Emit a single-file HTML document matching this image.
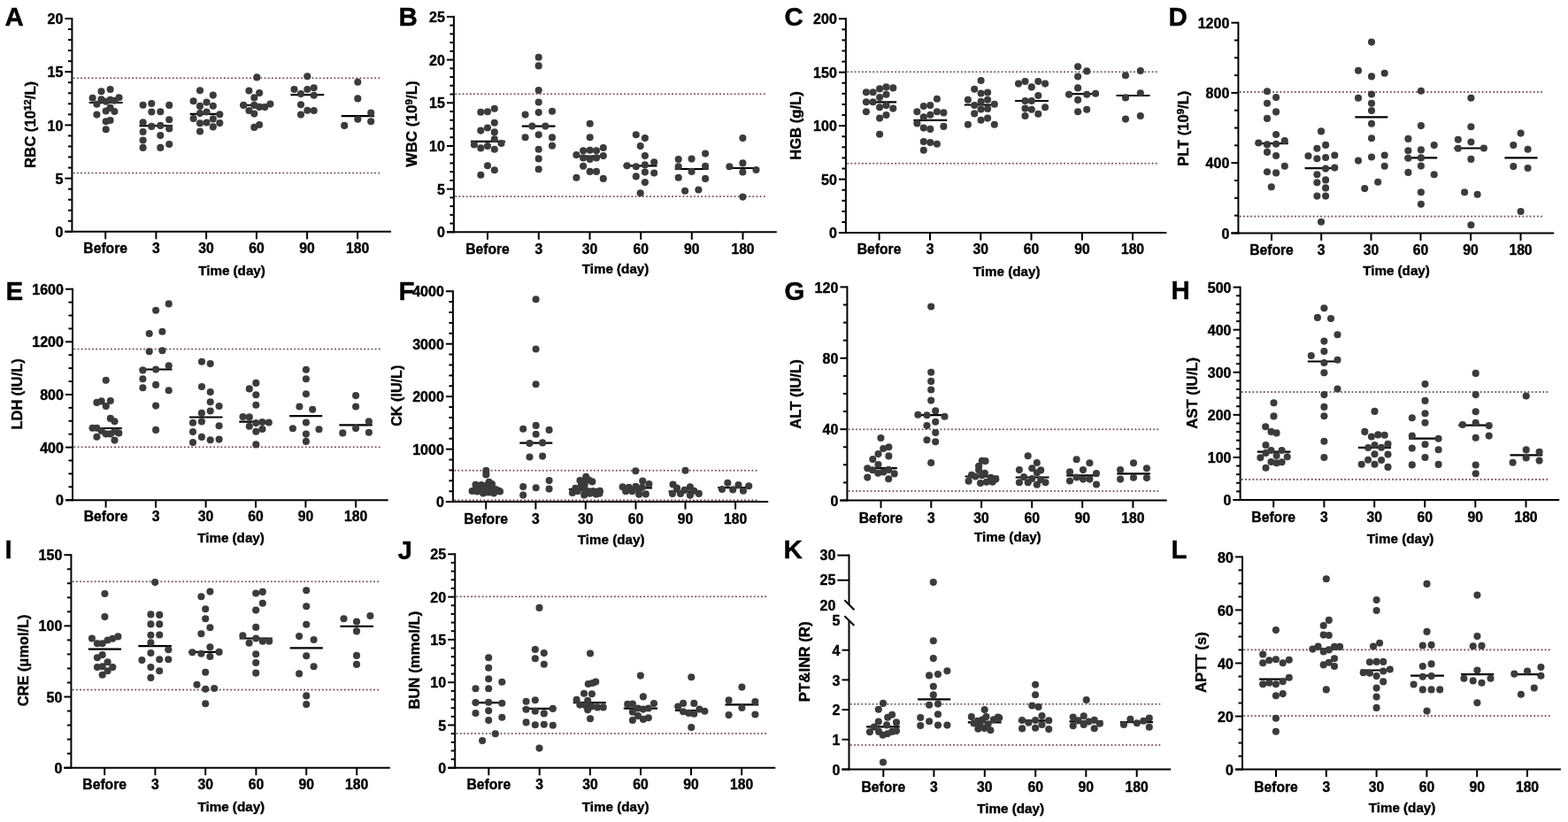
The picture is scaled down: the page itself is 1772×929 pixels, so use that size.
<!DOCTYPE html>
<html><head><meta charset="utf-8"><style>
html,body{margin:0;padding:0;background:#fff;}
svg{display:block;}
text{font-family:'Liberation Sans', Arial, sans-serif;font-weight:bold;fill:#000;stroke:#000;stroke-width:0.4px;}
circle{fill:#3b3b3b;}
</style></head><body>
<svg width="1772" height="929" viewBox="0 0 1772 929">
<rect width="1772" height="929" fill="#fff"/>
<text x="5.4" y="28.8" font-size="29.5" text-anchor="start">A</text>
<line x1="83.7" y1="88.2" x2="430.2" y2="88.2" stroke="#7a5256" stroke-width="2.1" stroke-linecap="round" stroke-dasharray="0 4.15"/>
<line x1="83.7" y1="195.5" x2="430.2" y2="195.5" stroke="#7a5256" stroke-width="2.1" stroke-linecap="round" stroke-dasharray="0 4.15"/>
<line x1="81.4" y1="20" x2="81.4" y2="262.8" stroke="#000" stroke-width="2"/>
<line x1="73.4" y1="261.8" x2="81.4" y2="261.8" stroke="#000" stroke-width="2"/>
<text x="71.3" y="267.9" font-size="16" text-anchor="end">0</text>
<line x1="73.4" y1="201.6" x2="81.4" y2="201.6" stroke="#000" stroke-width="2"/>
<text x="71.3" y="207.7" font-size="16" text-anchor="end">5</text>
<line x1="73.4" y1="141.4" x2="81.4" y2="141.4" stroke="#000" stroke-width="2"/>
<text x="71.3" y="147.5" font-size="16" text-anchor="end">10</text>
<line x1="73.4" y1="81.2" x2="81.4" y2="81.2" stroke="#000" stroke-width="2"/>
<text x="71.3" y="87.3" font-size="16" text-anchor="end">15</text>
<line x1="73.4" y1="21" x2="81.4" y2="21" stroke="#000" stroke-width="2"/>
<text x="71.3" y="27.1" font-size="16" text-anchor="end">20</text>
<line x1="76.9" y1="249.76" x2="81.4" y2="249.76" stroke="#000" stroke-width="2"/>
<line x1="76.9" y1="237.72" x2="81.4" y2="237.72" stroke="#000" stroke-width="2"/>
<line x1="76.9" y1="225.68" x2="81.4" y2="225.68" stroke="#000" stroke-width="2"/>
<line x1="76.9" y1="213.64" x2="81.4" y2="213.64" stroke="#000" stroke-width="2"/>
<line x1="76.9" y1="189.56" x2="81.4" y2="189.56" stroke="#000" stroke-width="2"/>
<line x1="76.9" y1="177.52" x2="81.4" y2="177.52" stroke="#000" stroke-width="2"/>
<line x1="76.9" y1="165.48" x2="81.4" y2="165.48" stroke="#000" stroke-width="2"/>
<line x1="76.9" y1="153.44" x2="81.4" y2="153.44" stroke="#000" stroke-width="2"/>
<line x1="76.9" y1="129.36" x2="81.4" y2="129.36" stroke="#000" stroke-width="2"/>
<line x1="76.9" y1="117.32" x2="81.4" y2="117.32" stroke="#000" stroke-width="2"/>
<line x1="76.9" y1="105.28" x2="81.4" y2="105.28" stroke="#000" stroke-width="2"/>
<line x1="76.9" y1="93.24" x2="81.4" y2="93.24" stroke="#000" stroke-width="2"/>
<line x1="76.9" y1="69.16" x2="81.4" y2="69.16" stroke="#000" stroke-width="2"/>
<line x1="76.9" y1="57.12" x2="81.4" y2="57.12" stroke="#000" stroke-width="2"/>
<line x1="76.9" y1="45.08" x2="81.4" y2="45.08" stroke="#000" stroke-width="2"/>
<line x1="76.9" y1="33.04" x2="81.4" y2="33.04" stroke="#000" stroke-width="2"/>
<line x1="73.4" y1="261.8" x2="442" y2="261.8" stroke="#000" stroke-width="2"/>
<line x1="119.2" y1="261.8" x2="119.2" y2="270.3" stroke="#000" stroke-width="2"/>
<text x="119.2" y="286.2" font-size="15.7" text-anchor="middle">Before</text>
<line x1="176.4" y1="261.8" x2="176.4" y2="270.3" stroke="#000" stroke-width="2"/>
<text x="176.4" y="286.2" font-size="15.7" text-anchor="middle">3</text>
<line x1="233.1" y1="261.8" x2="233.1" y2="270.3" stroke="#000" stroke-width="2"/>
<text x="233.1" y="286.2" font-size="15.7" text-anchor="middle">30</text>
<line x1="289.9" y1="261.8" x2="289.9" y2="270.3" stroke="#000" stroke-width="2"/>
<text x="289.9" y="286.2" font-size="15.7" text-anchor="middle">60</text>
<line x1="347.1" y1="261.8" x2="347.1" y2="270.3" stroke="#000" stroke-width="2"/>
<text x="347.1" y="286.2" font-size="15.7" text-anchor="middle">90</text>
<line x1="404.1" y1="261.8" x2="404.1" y2="270.3" stroke="#000" stroke-width="2"/>
<text x="404.1" y="286.2" font-size="15.7" text-anchor="middle">180</text>
<text x="262" y="310.8" font-size="15.2" text-anchor="middle">Time (day)</text>
<text transform="translate(39.5,140.9) rotate(-90)" font-size="16.69" text-anchor="middle">RBC (10<tspan font-size="11.5" dy="-5">12</tspan><tspan dy="5">/L)</tspan></text>
<text x="450.4" y="28.8" font-size="29.5" text-anchor="start">B</text>
<line x1="515.2" y1="106.3" x2="866.5" y2="106.3" stroke="#7a5256" stroke-width="2.1" stroke-linecap="round" stroke-dasharray="0 4.15"/>
<line x1="515.2" y1="222" x2="866.5" y2="222" stroke="#7a5256" stroke-width="2.1" stroke-linecap="round" stroke-dasharray="0 4.15"/>
<line x1="512.9" y1="17.9" x2="512.9" y2="263.3" stroke="#000" stroke-width="2"/>
<line x1="504.9" y1="262.3" x2="512.9" y2="262.3" stroke="#000" stroke-width="2"/>
<text x="502.8" y="268.4" font-size="16" text-anchor="end">0</text>
<line x1="504.9" y1="213.62" x2="512.9" y2="213.62" stroke="#000" stroke-width="2"/>
<text x="502.8" y="219.72" font-size="16" text-anchor="end">5</text>
<line x1="504.9" y1="164.94" x2="512.9" y2="164.94" stroke="#000" stroke-width="2"/>
<text x="502.8" y="171.04" font-size="16" text-anchor="end">10</text>
<line x1="504.9" y1="116.26" x2="512.9" y2="116.26" stroke="#000" stroke-width="2"/>
<text x="502.8" y="122.36" font-size="16" text-anchor="end">15</text>
<line x1="504.9" y1="67.58" x2="512.9" y2="67.58" stroke="#000" stroke-width="2"/>
<text x="502.8" y="73.68" font-size="16" text-anchor="end">20</text>
<line x1="504.9" y1="18.9" x2="512.9" y2="18.9" stroke="#000" stroke-width="2"/>
<text x="502.8" y="25" font-size="16" text-anchor="end">25</text>
<line x1="508.4" y1="252.56" x2="512.9" y2="252.56" stroke="#000" stroke-width="2"/>
<line x1="508.4" y1="242.83" x2="512.9" y2="242.83" stroke="#000" stroke-width="2"/>
<line x1="508.4" y1="233.09" x2="512.9" y2="233.09" stroke="#000" stroke-width="2"/>
<line x1="508.4" y1="223.36" x2="512.9" y2="223.36" stroke="#000" stroke-width="2"/>
<line x1="508.4" y1="203.88" x2="512.9" y2="203.88" stroke="#000" stroke-width="2"/>
<line x1="508.4" y1="194.15" x2="512.9" y2="194.15" stroke="#000" stroke-width="2"/>
<line x1="508.4" y1="184.41" x2="512.9" y2="184.41" stroke="#000" stroke-width="2"/>
<line x1="508.4" y1="174.68" x2="512.9" y2="174.68" stroke="#000" stroke-width="2"/>
<line x1="508.4" y1="155.2" x2="512.9" y2="155.2" stroke="#000" stroke-width="2"/>
<line x1="508.4" y1="145.47" x2="512.9" y2="145.47" stroke="#000" stroke-width="2"/>
<line x1="508.4" y1="135.73" x2="512.9" y2="135.73" stroke="#000" stroke-width="2"/>
<line x1="508.4" y1="126" x2="512.9" y2="126" stroke="#000" stroke-width="2"/>
<line x1="508.4" y1="106.52" x2="512.9" y2="106.52" stroke="#000" stroke-width="2"/>
<line x1="508.4" y1="96.79" x2="512.9" y2="96.79" stroke="#000" stroke-width="2"/>
<line x1="508.4" y1="87.05" x2="512.9" y2="87.05" stroke="#000" stroke-width="2"/>
<line x1="508.4" y1="77.32" x2="512.9" y2="77.32" stroke="#000" stroke-width="2"/>
<line x1="508.4" y1="57.84" x2="512.9" y2="57.84" stroke="#000" stroke-width="2"/>
<line x1="508.4" y1="48.11" x2="512.9" y2="48.11" stroke="#000" stroke-width="2"/>
<line x1="508.4" y1="38.37" x2="512.9" y2="38.37" stroke="#000" stroke-width="2"/>
<line x1="508.4" y1="28.64" x2="512.9" y2="28.64" stroke="#000" stroke-width="2"/>
<line x1="504.9" y1="262.3" x2="877.8" y2="262.3" stroke="#000" stroke-width="2"/>
<line x1="551" y1="262.3" x2="551" y2="270.8" stroke="#000" stroke-width="2"/>
<text x="551" y="287.2" font-size="15.7" text-anchor="middle">Before</text>
<line x1="608.8" y1="262.3" x2="608.8" y2="270.8" stroke="#000" stroke-width="2"/>
<text x="608.8" y="287.2" font-size="15.7" text-anchor="middle">3</text>
<line x1="666.5" y1="262.3" x2="666.5" y2="270.8" stroke="#000" stroke-width="2"/>
<text x="666.5" y="287.2" font-size="15.7" text-anchor="middle">30</text>
<line x1="724.2" y1="262.3" x2="724.2" y2="270.8" stroke="#000" stroke-width="2"/>
<text x="724.2" y="287.2" font-size="15.7" text-anchor="middle">60</text>
<line x1="781.8" y1="262.3" x2="781.8" y2="270.8" stroke="#000" stroke-width="2"/>
<text x="781.8" y="287.2" font-size="15.7" text-anchor="middle">90</text>
<line x1="839.5" y1="262.3" x2="839.5" y2="270.8" stroke="#000" stroke-width="2"/>
<text x="839.5" y="287.2" font-size="15.7" text-anchor="middle">180</text>
<text x="695.5" y="309" font-size="15.2" text-anchor="middle">Time (day)</text>
<text transform="translate(470.7,139.95) rotate(-90)" font-size="17.09" text-anchor="middle">WBC (10<tspan font-size="11.5" dy="-5">9</tspan><tspan dy="5">/L)</tspan></text>
<text x="886.4" y="28.8" font-size="29.5" text-anchor="start">C</text>
<line x1="958.2" y1="81.3" x2="1307.9" y2="81.3" stroke="#7a5256" stroke-width="2.1" stroke-linecap="round" stroke-dasharray="0 4.15"/>
<line x1="958.2" y1="184.7" x2="1307.9" y2="184.7" stroke="#7a5256" stroke-width="2.1" stroke-linecap="round" stroke-dasharray="0 4.15"/>
<line x1="955.9" y1="20.2" x2="955.9" y2="264.1" stroke="#000" stroke-width="2"/>
<line x1="947.9" y1="263.1" x2="955.9" y2="263.1" stroke="#000" stroke-width="2"/>
<text x="945.8" y="269.2" font-size="16" text-anchor="end">0</text>
<line x1="947.9" y1="202.62" x2="955.9" y2="202.62" stroke="#000" stroke-width="2"/>
<text x="945.8" y="208.72" font-size="16" text-anchor="end">50</text>
<line x1="947.9" y1="142.15" x2="955.9" y2="142.15" stroke="#000" stroke-width="2"/>
<text x="945.8" y="148.25" font-size="16" text-anchor="end">100</text>
<line x1="947.9" y1="81.67" x2="955.9" y2="81.67" stroke="#000" stroke-width="2"/>
<text x="945.8" y="87.77" font-size="16" text-anchor="end">150</text>
<line x1="947.9" y1="21.2" x2="955.9" y2="21.2" stroke="#000" stroke-width="2"/>
<text x="945.8" y="27.3" font-size="16" text-anchor="end">200</text>
<line x1="951.4" y1="251.01" x2="955.9" y2="251.01" stroke="#000" stroke-width="2"/>
<line x1="951.4" y1="238.91" x2="955.9" y2="238.91" stroke="#000" stroke-width="2"/>
<line x1="951.4" y1="226.81" x2="955.9" y2="226.81" stroke="#000" stroke-width="2"/>
<line x1="951.4" y1="214.72" x2="955.9" y2="214.72" stroke="#000" stroke-width="2"/>
<line x1="951.4" y1="190.53" x2="955.9" y2="190.53" stroke="#000" stroke-width="2"/>
<line x1="951.4" y1="178.44" x2="955.9" y2="178.44" stroke="#000" stroke-width="2"/>
<line x1="951.4" y1="166.34" x2="955.9" y2="166.34" stroke="#000" stroke-width="2"/>
<line x1="951.4" y1="154.25" x2="955.9" y2="154.25" stroke="#000" stroke-width="2"/>
<line x1="951.4" y1="130.06" x2="955.9" y2="130.06" stroke="#000" stroke-width="2"/>
<line x1="951.4" y1="117.96" x2="955.9" y2="117.96" stroke="#000" stroke-width="2"/>
<line x1="951.4" y1="105.86" x2="955.9" y2="105.86" stroke="#000" stroke-width="2"/>
<line x1="951.4" y1="93.77" x2="955.9" y2="93.77" stroke="#000" stroke-width="2"/>
<line x1="951.4" y1="69.58" x2="955.9" y2="69.58" stroke="#000" stroke-width="2"/>
<line x1="951.4" y1="57.48" x2="955.9" y2="57.48" stroke="#000" stroke-width="2"/>
<line x1="951.4" y1="45.39" x2="955.9" y2="45.39" stroke="#000" stroke-width="2"/>
<line x1="951.4" y1="33.29" x2="955.9" y2="33.29" stroke="#000" stroke-width="2"/>
<line x1="947.9" y1="263.1" x2="1318.4" y2="263.1" stroke="#000" stroke-width="2"/>
<line x1="993.6" y1="263.1" x2="993.6" y2="271.6" stroke="#000" stroke-width="2"/>
<text x="993.6" y="287.3" font-size="15.7" text-anchor="middle">Before</text>
<line x1="1051" y1="263.1" x2="1051" y2="271.6" stroke="#000" stroke-width="2"/>
<text x="1051" y="287.3" font-size="15.7" text-anchor="middle">3</text>
<line x1="1108.3" y1="263.1" x2="1108.3" y2="271.6" stroke="#000" stroke-width="2"/>
<text x="1108.3" y="287.3" font-size="15.7" text-anchor="middle">30</text>
<line x1="1165.5" y1="263.1" x2="1165.5" y2="271.6" stroke="#000" stroke-width="2"/>
<text x="1165.5" y="287.3" font-size="15.7" text-anchor="middle">60</text>
<line x1="1222.9" y1="263.1" x2="1222.9" y2="271.6" stroke="#000" stroke-width="2"/>
<text x="1222.9" y="287.3" font-size="15.7" text-anchor="middle">90</text>
<line x1="1280" y1="263.1" x2="1280" y2="271.6" stroke="#000" stroke-width="2"/>
<text x="1280" y="287.3" font-size="15.7" text-anchor="middle">180</text>
<text x="1137.7" y="311.9" font-size="15.2" text-anchor="middle">Time (day)</text>
<text transform="translate(904.8,142.05) rotate(-90)" font-size="16.63" text-anchor="middle">HGB (g/L)</text>
<text x="1320.4" y="28.8" font-size="29.5" text-anchor="start">D</text>
<line x1="1401.7" y1="104.1" x2="1745.5" y2="104.1" stroke="#7a5256" stroke-width="2.1" stroke-linecap="round" stroke-dasharray="0 4.15"/>
<line x1="1401.7" y1="244.6" x2="1745.5" y2="244.6" stroke="#7a5256" stroke-width="2.1" stroke-linecap="round" stroke-dasharray="0 4.15"/>
<line x1="1399.4" y1="24.7" x2="1399.4" y2="264.4" stroke="#000" stroke-width="2"/>
<line x1="1391.4" y1="263.4" x2="1399.4" y2="263.4" stroke="#000" stroke-width="2"/>
<text x="1389.3" y="269.5" font-size="16" text-anchor="end">0</text>
<line x1="1391.4" y1="184.17" x2="1399.4" y2="184.17" stroke="#000" stroke-width="2"/>
<text x="1389.3" y="190.27" font-size="16" text-anchor="end">400</text>
<line x1="1391.4" y1="104.93" x2="1399.4" y2="104.93" stroke="#000" stroke-width="2"/>
<text x="1389.3" y="111.03" font-size="16" text-anchor="end">800</text>
<line x1="1391.4" y1="25.7" x2="1399.4" y2="25.7" stroke="#000" stroke-width="2"/>
<text x="1389.3" y="31.8" font-size="16" text-anchor="end">1200</text>
<line x1="1394.9" y1="243.59" x2="1399.4" y2="243.59" stroke="#000" stroke-width="2"/>
<line x1="1394.9" y1="223.78" x2="1399.4" y2="223.78" stroke="#000" stroke-width="2"/>
<line x1="1394.9" y1="203.97" x2="1399.4" y2="203.97" stroke="#000" stroke-width="2"/>
<line x1="1394.9" y1="164.36" x2="1399.4" y2="164.36" stroke="#000" stroke-width="2"/>
<line x1="1394.9" y1="144.55" x2="1399.4" y2="144.55" stroke="#000" stroke-width="2"/>
<line x1="1394.9" y1="124.74" x2="1399.4" y2="124.74" stroke="#000" stroke-width="2"/>
<line x1="1394.9" y1="85.12" x2="1399.4" y2="85.12" stroke="#000" stroke-width="2"/>
<line x1="1394.9" y1="65.32" x2="1399.4" y2="65.32" stroke="#000" stroke-width="2"/>
<line x1="1394.9" y1="45.51" x2="1399.4" y2="45.51" stroke="#000" stroke-width="2"/>
<line x1="1391.4" y1="263.4" x2="1756.2" y2="263.4" stroke="#000" stroke-width="2"/>
<line x1="1437" y1="263.4" x2="1437" y2="271.9" stroke="#000" stroke-width="2"/>
<text x="1437" y="288" font-size="15.7" text-anchor="middle">Before</text>
<line x1="1493.2" y1="263.4" x2="1493.2" y2="271.9" stroke="#000" stroke-width="2"/>
<text x="1493.2" y="288" font-size="15.7" text-anchor="middle">3</text>
<line x1="1549.5" y1="263.4" x2="1549.5" y2="271.9" stroke="#000" stroke-width="2"/>
<text x="1549.5" y="288" font-size="15.7" text-anchor="middle">30</text>
<line x1="1605.5" y1="263.4" x2="1605.5" y2="271.9" stroke="#000" stroke-width="2"/>
<text x="1605.5" y="288" font-size="15.7" text-anchor="middle">60</text>
<line x1="1662.1" y1="263.4" x2="1662.1" y2="271.9" stroke="#000" stroke-width="2"/>
<text x="1662.1" y="288" font-size="15.7" text-anchor="middle">90</text>
<line x1="1718.5" y1="263.4" x2="1718.5" y2="271.9" stroke="#000" stroke-width="2"/>
<text x="1718.5" y="288" font-size="15.7" text-anchor="middle">180</text>
<text x="1578" y="311.2" font-size="15.2" text-anchor="middle">Time (day)</text>
<text transform="translate(1343.4,145.3) rotate(-90)" font-size="16.54" text-anchor="middle">PLT (10<tspan font-size="11.5" dy="-5">9</tspan><tspan dy="5">/L)</tspan></text>
<text x="6.4" y="338.8" font-size="29.5" text-anchor="start">E</text>
<line x1="84.3" y1="394.5" x2="429.4" y2="394.5" stroke="#7a5256" stroke-width="2.1" stroke-linecap="round" stroke-dasharray="0 4.15"/>
<line x1="84.3" y1="505.2" x2="429.4" y2="505.2" stroke="#7a5256" stroke-width="2.1" stroke-linecap="round" stroke-dasharray="0 4.15"/>
<line x1="82" y1="325.7" x2="82" y2="566.2" stroke="#000" stroke-width="2"/>
<line x1="74" y1="565.2" x2="82" y2="565.2" stroke="#000" stroke-width="2"/>
<text x="71.9" y="571.3" font-size="16" text-anchor="end">0</text>
<line x1="74" y1="505.58" x2="82" y2="505.58" stroke="#000" stroke-width="2"/>
<text x="71.9" y="511.68" font-size="16" text-anchor="end">400</text>
<line x1="74" y1="445.95" x2="82" y2="445.95" stroke="#000" stroke-width="2"/>
<text x="71.9" y="452.05" font-size="16" text-anchor="end">800</text>
<line x1="74" y1="386.32" x2="82" y2="386.32" stroke="#000" stroke-width="2"/>
<text x="71.9" y="392.43" font-size="16" text-anchor="end">1200</text>
<line x1="74" y1="326.7" x2="82" y2="326.7" stroke="#000" stroke-width="2"/>
<text x="71.9" y="332.8" font-size="16" text-anchor="end">1600</text>
<line x1="77.5" y1="550.29" x2="82" y2="550.29" stroke="#000" stroke-width="2"/>
<line x1="77.5" y1="535.39" x2="82" y2="535.39" stroke="#000" stroke-width="2"/>
<line x1="77.5" y1="520.48" x2="82" y2="520.48" stroke="#000" stroke-width="2"/>
<line x1="77.5" y1="490.67" x2="82" y2="490.67" stroke="#000" stroke-width="2"/>
<line x1="77.5" y1="475.76" x2="82" y2="475.76" stroke="#000" stroke-width="2"/>
<line x1="77.5" y1="460.86" x2="82" y2="460.86" stroke="#000" stroke-width="2"/>
<line x1="77.5" y1="431.04" x2="82" y2="431.04" stroke="#000" stroke-width="2"/>
<line x1="77.5" y1="416.14" x2="82" y2="416.14" stroke="#000" stroke-width="2"/>
<line x1="77.5" y1="401.23" x2="82" y2="401.23" stroke="#000" stroke-width="2"/>
<line x1="77.5" y1="371.42" x2="82" y2="371.42" stroke="#000" stroke-width="2"/>
<line x1="77.5" y1="356.51" x2="82" y2="356.51" stroke="#000" stroke-width="2"/>
<line x1="77.5" y1="341.61" x2="82" y2="341.61" stroke="#000" stroke-width="2"/>
<line x1="74" y1="565.2" x2="438.7" y2="565.2" stroke="#000" stroke-width="2"/>
<line x1="119.6" y1="565.2" x2="119.6" y2="573.7" stroke="#000" stroke-width="2"/>
<text x="119.6" y="589.2" font-size="15.7" text-anchor="middle">Before</text>
<line x1="176" y1="565.2" x2="176" y2="573.7" stroke="#000" stroke-width="2"/>
<text x="176" y="589.2" font-size="15.7" text-anchor="middle">3</text>
<line x1="232.6" y1="565.2" x2="232.6" y2="573.7" stroke="#000" stroke-width="2"/>
<text x="232.6" y="589.2" font-size="15.7" text-anchor="middle">30</text>
<line x1="289" y1="565.2" x2="289" y2="573.7" stroke="#000" stroke-width="2"/>
<text x="289" y="589.2" font-size="15.7" text-anchor="middle">60</text>
<line x1="345.4" y1="565.2" x2="345.4" y2="573.7" stroke="#000" stroke-width="2"/>
<text x="345.4" y="589.2" font-size="15.7" text-anchor="middle">90</text>
<line x1="402.1" y1="565.2" x2="402.1" y2="573.7" stroke="#000" stroke-width="2"/>
<text x="402.1" y="589.2" font-size="15.7" text-anchor="middle">180</text>
<text x="261" y="613.1" font-size="15.2" text-anchor="middle">Time (day)</text>
<text transform="translate(25.3,445.35) rotate(-90)" font-size="16.41" text-anchor="middle">LDH (IU/L)</text>
<text x="450.4" y="338.8" font-size="29.5" text-anchor="start">F</text>
<line x1="514.2" y1="531.7" x2="857.5" y2="531.7" stroke="#7a5256" stroke-width="2.1" stroke-linecap="round" stroke-dasharray="0 4.15"/>
<line x1="514.2" y1="565.4" x2="857.5" y2="565.4" stroke="#7a5256" stroke-width="2.1" stroke-linecap="round" stroke-dasharray="0 4.15"/>
<line x1="511.9" y1="328.2" x2="511.9" y2="568.1" stroke="#000" stroke-width="2"/>
<line x1="503.9" y1="567.1" x2="511.9" y2="567.1" stroke="#000" stroke-width="2"/>
<text x="501.8" y="573.2" font-size="16" text-anchor="end">0</text>
<line x1="503.9" y1="507.62" x2="511.9" y2="507.62" stroke="#000" stroke-width="2"/>
<text x="501.8" y="513.73" font-size="16" text-anchor="end">1000</text>
<line x1="503.9" y1="448.15" x2="511.9" y2="448.15" stroke="#000" stroke-width="2"/>
<text x="501.8" y="454.25" font-size="16" text-anchor="end">2000</text>
<line x1="503.9" y1="388.68" x2="511.9" y2="388.68" stroke="#000" stroke-width="2"/>
<text x="501.8" y="394.78" font-size="16" text-anchor="end">3000</text>
<line x1="503.9" y1="329.2" x2="511.9" y2="329.2" stroke="#000" stroke-width="2"/>
<text x="501.8" y="335.3" font-size="16" text-anchor="end">4000</text>
<line x1="507.4" y1="555.21" x2="511.9" y2="555.21" stroke="#000" stroke-width="2"/>
<line x1="507.4" y1="543.31" x2="511.9" y2="543.31" stroke="#000" stroke-width="2"/>
<line x1="507.4" y1="531.41" x2="511.9" y2="531.41" stroke="#000" stroke-width="2"/>
<line x1="507.4" y1="519.52" x2="511.9" y2="519.52" stroke="#000" stroke-width="2"/>
<line x1="507.4" y1="495.73" x2="511.9" y2="495.73" stroke="#000" stroke-width="2"/>
<line x1="507.4" y1="483.84" x2="511.9" y2="483.84" stroke="#000" stroke-width="2"/>
<line x1="507.4" y1="471.94" x2="511.9" y2="471.94" stroke="#000" stroke-width="2"/>
<line x1="507.4" y1="460.05" x2="511.9" y2="460.05" stroke="#000" stroke-width="2"/>
<line x1="507.4" y1="436.25" x2="511.9" y2="436.25" stroke="#000" stroke-width="2"/>
<line x1="507.4" y1="424.36" x2="511.9" y2="424.36" stroke="#000" stroke-width="2"/>
<line x1="507.4" y1="412.47" x2="511.9" y2="412.47" stroke="#000" stroke-width="2"/>
<line x1="507.4" y1="400.57" x2="511.9" y2="400.57" stroke="#000" stroke-width="2"/>
<line x1="507.4" y1="376.78" x2="511.9" y2="376.78" stroke="#000" stroke-width="2"/>
<line x1="507.4" y1="364.88" x2="511.9" y2="364.88" stroke="#000" stroke-width="2"/>
<line x1="507.4" y1="352.99" x2="511.9" y2="352.99" stroke="#000" stroke-width="2"/>
<line x1="507.4" y1="341.1" x2="511.9" y2="341.1" stroke="#000" stroke-width="2"/>
<line x1="503.9" y1="567.1" x2="868.2" y2="567.1" stroke="#000" stroke-width="2"/>
<line x1="549.2" y1="567.1" x2="549.2" y2="575.6" stroke="#000" stroke-width="2"/>
<text x="549.2" y="592.1" font-size="15.7" text-anchor="middle">Before</text>
<line x1="605.4" y1="567.1" x2="605.4" y2="575.6" stroke="#000" stroke-width="2"/>
<text x="605.4" y="592.1" font-size="15.7" text-anchor="middle">3</text>
<line x1="661.8" y1="567.1" x2="661.8" y2="575.6" stroke="#000" stroke-width="2"/>
<text x="661.8" y="592.1" font-size="15.7" text-anchor="middle">30</text>
<line x1="718.5" y1="567.1" x2="718.5" y2="575.6" stroke="#000" stroke-width="2"/>
<text x="718.5" y="592.1" font-size="15.7" text-anchor="middle">60</text>
<line x1="774.5" y1="567.1" x2="774.5" y2="575.6" stroke="#000" stroke-width="2"/>
<text x="774.5" y="592.1" font-size="15.7" text-anchor="middle">90</text>
<line x1="831.1" y1="567.1" x2="831.1" y2="575.6" stroke="#000" stroke-width="2"/>
<text x="831.1" y="592.1" font-size="15.7" text-anchor="middle">180</text>
<text x="690.7" y="614.6" font-size="15.2" text-anchor="middle">Time (day)</text>
<text transform="translate(453.5,447.25) rotate(-90)" font-size="16.17" text-anchor="middle">CK (IU/L)</text>
<text x="886.4" y="338.8" font-size="29.5" text-anchor="start">G</text>
<line x1="959.7" y1="485.3" x2="1308.7" y2="485.3" stroke="#7a5256" stroke-width="2.1" stroke-linecap="round" stroke-dasharray="0 4.15"/>
<line x1="959.7" y1="555" x2="1308.7" y2="555" stroke="#7a5256" stroke-width="2.1" stroke-linecap="round" stroke-dasharray="0 4.15"/>
<line x1="957.4" y1="323.4" x2="957.4" y2="566.5" stroke="#000" stroke-width="2"/>
<line x1="949.4" y1="565.5" x2="957.4" y2="565.5" stroke="#000" stroke-width="2"/>
<text x="947.3" y="571.6" font-size="16" text-anchor="end">0</text>
<line x1="949.4" y1="485.13" x2="957.4" y2="485.13" stroke="#000" stroke-width="2"/>
<text x="947.3" y="491.23" font-size="16" text-anchor="end">40</text>
<line x1="949.4" y1="404.77" x2="957.4" y2="404.77" stroke="#000" stroke-width="2"/>
<text x="947.3" y="410.87" font-size="16" text-anchor="end">80</text>
<line x1="949.4" y1="324.4" x2="957.4" y2="324.4" stroke="#000" stroke-width="2"/>
<text x="947.3" y="330.5" font-size="16" text-anchor="end">120</text>
<line x1="952.9" y1="545.41" x2="957.4" y2="545.41" stroke="#000" stroke-width="2"/>
<line x1="952.9" y1="525.32" x2="957.4" y2="525.32" stroke="#000" stroke-width="2"/>
<line x1="952.9" y1="505.23" x2="957.4" y2="505.23" stroke="#000" stroke-width="2"/>
<line x1="952.9" y1="465.04" x2="957.4" y2="465.04" stroke="#000" stroke-width="2"/>
<line x1="952.9" y1="444.95" x2="957.4" y2="444.95" stroke="#000" stroke-width="2"/>
<line x1="952.9" y1="424.86" x2="957.4" y2="424.86" stroke="#000" stroke-width="2"/>
<line x1="952.9" y1="384.67" x2="957.4" y2="384.67" stroke="#000" stroke-width="2"/>
<line x1="952.9" y1="364.58" x2="957.4" y2="364.58" stroke="#000" stroke-width="2"/>
<line x1="952.9" y1="344.49" x2="957.4" y2="344.49" stroke="#000" stroke-width="2"/>
<line x1="949.4" y1="565.5" x2="1318.7" y2="565.5" stroke="#000" stroke-width="2"/>
<line x1="995.5" y1="565.5" x2="995.5" y2="574" stroke="#000" stroke-width="2"/>
<text x="995.5" y="590.5" font-size="15.7" text-anchor="middle">Before</text>
<line x1="1052.3" y1="565.5" x2="1052.3" y2="574" stroke="#000" stroke-width="2"/>
<text x="1052.3" y="590.5" font-size="15.7" text-anchor="middle">3</text>
<line x1="1109.1" y1="565.5" x2="1109.1" y2="574" stroke="#000" stroke-width="2"/>
<text x="1109.1" y="590.5" font-size="15.7" text-anchor="middle">30</text>
<line x1="1166.2" y1="565.5" x2="1166.2" y2="574" stroke="#000" stroke-width="2"/>
<text x="1166.2" y="590.5" font-size="15.7" text-anchor="middle">60</text>
<line x1="1223.2" y1="565.5" x2="1223.2" y2="574" stroke="#000" stroke-width="2"/>
<text x="1223.2" y="590.5" font-size="15.7" text-anchor="middle">90</text>
<line x1="1280.4" y1="565.5" x2="1280.4" y2="574" stroke="#000" stroke-width="2"/>
<text x="1280.4" y="590.5" font-size="15.7" text-anchor="middle">180</text>
<text x="1138.8" y="611.7" font-size="15.2" text-anchor="middle">Time (day)</text>
<text transform="translate(904.5,445.5) rotate(-90)" font-size="16.68" text-anchor="middle">ALT (IU/L)</text>
<text x="1323.4" y="337.8" font-size="29.5" text-anchor="start">H</text>
<line x1="1403.9" y1="443.1" x2="1751" y2="443.1" stroke="#7a5256" stroke-width="2.1" stroke-linecap="round" stroke-dasharray="0 4.15"/>
<line x1="1403.9" y1="541.9" x2="1751" y2="541.9" stroke="#7a5256" stroke-width="2.1" stroke-linecap="round" stroke-dasharray="0 4.15"/>
<line x1="1401.6" y1="323.6" x2="1401.6" y2="566" stroke="#000" stroke-width="2"/>
<line x1="1393.6" y1="565" x2="1401.6" y2="565" stroke="#000" stroke-width="2"/>
<text x="1391.5" y="571.1" font-size="16" text-anchor="end">0</text>
<line x1="1393.6" y1="516.92" x2="1401.6" y2="516.92" stroke="#000" stroke-width="2"/>
<text x="1391.5" y="523.02" font-size="16" text-anchor="end">100</text>
<line x1="1393.6" y1="468.84" x2="1401.6" y2="468.84" stroke="#000" stroke-width="2"/>
<text x="1391.5" y="474.94" font-size="16" text-anchor="end">200</text>
<line x1="1393.6" y1="420.76" x2="1401.6" y2="420.76" stroke="#000" stroke-width="2"/>
<text x="1391.5" y="426.86" font-size="16" text-anchor="end">300</text>
<line x1="1393.6" y1="372.68" x2="1401.6" y2="372.68" stroke="#000" stroke-width="2"/>
<text x="1391.5" y="378.78" font-size="16" text-anchor="end">400</text>
<line x1="1393.6" y1="324.6" x2="1401.6" y2="324.6" stroke="#000" stroke-width="2"/>
<text x="1391.5" y="330.7" font-size="16" text-anchor="end">500</text>
<line x1="1397.1" y1="555.38" x2="1401.6" y2="555.38" stroke="#000" stroke-width="2"/>
<line x1="1397.1" y1="545.77" x2="1401.6" y2="545.77" stroke="#000" stroke-width="2"/>
<line x1="1397.1" y1="536.15" x2="1401.6" y2="536.15" stroke="#000" stroke-width="2"/>
<line x1="1397.1" y1="526.54" x2="1401.6" y2="526.54" stroke="#000" stroke-width="2"/>
<line x1="1397.1" y1="507.3" x2="1401.6" y2="507.3" stroke="#000" stroke-width="2"/>
<line x1="1397.1" y1="497.69" x2="1401.6" y2="497.69" stroke="#000" stroke-width="2"/>
<line x1="1397.1" y1="488.07" x2="1401.6" y2="488.07" stroke="#000" stroke-width="2"/>
<line x1="1397.1" y1="478.46" x2="1401.6" y2="478.46" stroke="#000" stroke-width="2"/>
<line x1="1397.1" y1="459.22" x2="1401.6" y2="459.22" stroke="#000" stroke-width="2"/>
<line x1="1397.1" y1="449.61" x2="1401.6" y2="449.61" stroke="#000" stroke-width="2"/>
<line x1="1397.1" y1="439.99" x2="1401.6" y2="439.99" stroke="#000" stroke-width="2"/>
<line x1="1397.1" y1="430.38" x2="1401.6" y2="430.38" stroke="#000" stroke-width="2"/>
<line x1="1397.1" y1="411.14" x2="1401.6" y2="411.14" stroke="#000" stroke-width="2"/>
<line x1="1397.1" y1="401.53" x2="1401.6" y2="401.53" stroke="#000" stroke-width="2"/>
<line x1="1397.1" y1="391.91" x2="1401.6" y2="391.91" stroke="#000" stroke-width="2"/>
<line x1="1397.1" y1="382.3" x2="1401.6" y2="382.3" stroke="#000" stroke-width="2"/>
<line x1="1397.1" y1="363.06" x2="1401.6" y2="363.06" stroke="#000" stroke-width="2"/>
<line x1="1397.1" y1="353.45" x2="1401.6" y2="353.45" stroke="#000" stroke-width="2"/>
<line x1="1397.1" y1="343.83" x2="1401.6" y2="343.83" stroke="#000" stroke-width="2"/>
<line x1="1397.1" y1="334.22" x2="1401.6" y2="334.22" stroke="#000" stroke-width="2"/>
<line x1="1393.6" y1="565" x2="1762.2" y2="565" stroke="#000" stroke-width="2"/>
<line x1="1439.2" y1="565" x2="1439.2" y2="573.5" stroke="#000" stroke-width="2"/>
<text x="1439.2" y="590" font-size="15.7" text-anchor="middle">Before</text>
<line x1="1496.4" y1="565" x2="1496.4" y2="573.5" stroke="#000" stroke-width="2"/>
<text x="1496.4" y="590" font-size="15.7" text-anchor="middle">3</text>
<line x1="1553.2" y1="565" x2="1553.2" y2="573.5" stroke="#000" stroke-width="2"/>
<text x="1553.2" y="590" font-size="15.7" text-anchor="middle">30</text>
<line x1="1610.2" y1="565" x2="1610.2" y2="573.5" stroke="#000" stroke-width="2"/>
<text x="1610.2" y="590" font-size="15.7" text-anchor="middle">60</text>
<line x1="1667.3" y1="565" x2="1667.3" y2="573.5" stroke="#000" stroke-width="2"/>
<text x="1667.3" y="590" font-size="15.7" text-anchor="middle">90</text>
<line x1="1724.5" y1="565" x2="1724.5" y2="573.5" stroke="#000" stroke-width="2"/>
<text x="1724.5" y="590" font-size="15.7" text-anchor="middle">180</text>
<text x="1582.6" y="613.5" font-size="15.2" text-anchor="middle">Time (day)</text>
<text transform="translate(1353.2,444.35) rotate(-90)" font-size="16.76" text-anchor="middle">AST (IU/L)</text>
<text x="5.4" y="630.8" font-size="29.5" text-anchor="start">I</text>
<line x1="82.7" y1="657.3" x2="430.5" y2="657.3" stroke="#7a5256" stroke-width="2.1" stroke-linecap="round" stroke-dasharray="0 4.15"/>
<line x1="82.7" y1="779.6" x2="430.5" y2="779.6" stroke="#7a5256" stroke-width="2.1" stroke-linecap="round" stroke-dasharray="0 4.15"/>
<line x1="80.4" y1="626.2" x2="80.4" y2="868.7" stroke="#000" stroke-width="2"/>
<line x1="72.4" y1="867.7" x2="80.4" y2="867.7" stroke="#000" stroke-width="2"/>
<text x="70.3" y="873.8" font-size="16" text-anchor="end">0</text>
<line x1="72.4" y1="787.53" x2="80.4" y2="787.53" stroke="#000" stroke-width="2"/>
<text x="70.3" y="793.63" font-size="16" text-anchor="end">50</text>
<line x1="72.4" y1="707.37" x2="80.4" y2="707.37" stroke="#000" stroke-width="2"/>
<text x="70.3" y="713.47" font-size="16" text-anchor="end">100</text>
<line x1="72.4" y1="627.2" x2="80.4" y2="627.2" stroke="#000" stroke-width="2"/>
<text x="70.3" y="633.3" font-size="16" text-anchor="end">150</text>
<line x1="75.9" y1="851.67" x2="80.4" y2="851.67" stroke="#000" stroke-width="2"/>
<line x1="75.9" y1="835.63" x2="80.4" y2="835.63" stroke="#000" stroke-width="2"/>
<line x1="75.9" y1="819.6" x2="80.4" y2="819.6" stroke="#000" stroke-width="2"/>
<line x1="75.9" y1="803.57" x2="80.4" y2="803.57" stroke="#000" stroke-width="2"/>
<line x1="75.9" y1="771.5" x2="80.4" y2="771.5" stroke="#000" stroke-width="2"/>
<line x1="75.9" y1="755.47" x2="80.4" y2="755.47" stroke="#000" stroke-width="2"/>
<line x1="75.9" y1="739.43" x2="80.4" y2="739.43" stroke="#000" stroke-width="2"/>
<line x1="75.9" y1="723.4" x2="80.4" y2="723.4" stroke="#000" stroke-width="2"/>
<line x1="75.9" y1="691.33" x2="80.4" y2="691.33" stroke="#000" stroke-width="2"/>
<line x1="75.9" y1="675.3" x2="80.4" y2="675.3" stroke="#000" stroke-width="2"/>
<line x1="75.9" y1="659.27" x2="80.4" y2="659.27" stroke="#000" stroke-width="2"/>
<line x1="75.9" y1="643.23" x2="80.4" y2="643.23" stroke="#000" stroke-width="2"/>
<line x1="72.4" y1="867.7" x2="440.8" y2="867.7" stroke="#000" stroke-width="2"/>
<line x1="118.2" y1="867.7" x2="118.2" y2="876.2" stroke="#000" stroke-width="2"/>
<text x="118.2" y="892.1" font-size="15.7" text-anchor="middle">Before</text>
<line x1="175.4" y1="867.7" x2="175.4" y2="876.2" stroke="#000" stroke-width="2"/>
<text x="175.4" y="892.1" font-size="15.7" text-anchor="middle">3</text>
<line x1="232.2" y1="867.7" x2="232.2" y2="876.2" stroke="#000" stroke-width="2"/>
<text x="232.2" y="892.1" font-size="15.7" text-anchor="middle">30</text>
<line x1="289.4" y1="867.7" x2="289.4" y2="876.2" stroke="#000" stroke-width="2"/>
<text x="289.4" y="892.1" font-size="15.7" text-anchor="middle">60</text>
<line x1="346.2" y1="867.7" x2="346.2" y2="876.2" stroke="#000" stroke-width="2"/>
<text x="346.2" y="892.1" font-size="15.7" text-anchor="middle">90</text>
<line x1="403.2" y1="867.7" x2="403.2" y2="876.2" stroke="#000" stroke-width="2"/>
<text x="403.2" y="892.1" font-size="15.7" text-anchor="middle">180</text>
<text x="261.3" y="917.1" font-size="15.2" text-anchor="middle">Time (day)</text>
<text transform="translate(32.2,746.35) rotate(-90)" font-size="16.4" text-anchor="middle">CRE (μmol/L)</text>
<text x="449.4" y="631.8" font-size="29.5" text-anchor="start">J</text>
<line x1="516.5" y1="674.3" x2="866" y2="674.3" stroke="#7a5256" stroke-width="2.1" stroke-linecap="round" stroke-dasharray="0 4.15"/>
<line x1="516.5" y1="829" x2="866" y2="829" stroke="#7a5256" stroke-width="2.1" stroke-linecap="round" stroke-dasharray="0 4.15"/>
<line x1="514.2" y1="625.3" x2="514.2" y2="868.8" stroke="#000" stroke-width="2"/>
<line x1="506.2" y1="867.8" x2="514.2" y2="867.8" stroke="#000" stroke-width="2"/>
<text x="504.1" y="873.9" font-size="16" text-anchor="end">0</text>
<line x1="506.2" y1="819.5" x2="514.2" y2="819.5" stroke="#000" stroke-width="2"/>
<text x="504.1" y="825.6" font-size="16" text-anchor="end">5</text>
<line x1="506.2" y1="771.2" x2="514.2" y2="771.2" stroke="#000" stroke-width="2"/>
<text x="504.1" y="777.3" font-size="16" text-anchor="end">10</text>
<line x1="506.2" y1="722.9" x2="514.2" y2="722.9" stroke="#000" stroke-width="2"/>
<text x="504.1" y="729" font-size="16" text-anchor="end">15</text>
<line x1="506.2" y1="674.6" x2="514.2" y2="674.6" stroke="#000" stroke-width="2"/>
<text x="504.1" y="680.7" font-size="16" text-anchor="end">20</text>
<line x1="506.2" y1="626.3" x2="514.2" y2="626.3" stroke="#000" stroke-width="2"/>
<text x="504.1" y="632.4" font-size="16" text-anchor="end">25</text>
<line x1="509.7" y1="858.14" x2="514.2" y2="858.14" stroke="#000" stroke-width="2"/>
<line x1="509.7" y1="848.48" x2="514.2" y2="848.48" stroke="#000" stroke-width="2"/>
<line x1="509.7" y1="838.82" x2="514.2" y2="838.82" stroke="#000" stroke-width="2"/>
<line x1="509.7" y1="829.16" x2="514.2" y2="829.16" stroke="#000" stroke-width="2"/>
<line x1="509.7" y1="809.84" x2="514.2" y2="809.84" stroke="#000" stroke-width="2"/>
<line x1="509.7" y1="800.18" x2="514.2" y2="800.18" stroke="#000" stroke-width="2"/>
<line x1="509.7" y1="790.52" x2="514.2" y2="790.52" stroke="#000" stroke-width="2"/>
<line x1="509.7" y1="780.86" x2="514.2" y2="780.86" stroke="#000" stroke-width="2"/>
<line x1="509.7" y1="761.54" x2="514.2" y2="761.54" stroke="#000" stroke-width="2"/>
<line x1="509.7" y1="751.88" x2="514.2" y2="751.88" stroke="#000" stroke-width="2"/>
<line x1="509.7" y1="742.22" x2="514.2" y2="742.22" stroke="#000" stroke-width="2"/>
<line x1="509.7" y1="732.56" x2="514.2" y2="732.56" stroke="#000" stroke-width="2"/>
<line x1="509.7" y1="713.24" x2="514.2" y2="713.24" stroke="#000" stroke-width="2"/>
<line x1="509.7" y1="703.58" x2="514.2" y2="703.58" stroke="#000" stroke-width="2"/>
<line x1="509.7" y1="693.92" x2="514.2" y2="693.92" stroke="#000" stroke-width="2"/>
<line x1="509.7" y1="684.26" x2="514.2" y2="684.26" stroke="#000" stroke-width="2"/>
<line x1="509.7" y1="664.94" x2="514.2" y2="664.94" stroke="#000" stroke-width="2"/>
<line x1="509.7" y1="655.28" x2="514.2" y2="655.28" stroke="#000" stroke-width="2"/>
<line x1="509.7" y1="645.62" x2="514.2" y2="645.62" stroke="#000" stroke-width="2"/>
<line x1="509.7" y1="635.96" x2="514.2" y2="635.96" stroke="#000" stroke-width="2"/>
<line x1="506.2" y1="867.8" x2="876.3" y2="867.8" stroke="#000" stroke-width="2"/>
<line x1="552.3" y1="867.8" x2="552.3" y2="876.3" stroke="#000" stroke-width="2"/>
<text x="552.3" y="892.2" font-size="15.7" text-anchor="middle">Before</text>
<line x1="609.7" y1="867.8" x2="609.7" y2="876.3" stroke="#000" stroke-width="2"/>
<text x="609.7" y="892.2" font-size="15.7" text-anchor="middle">3</text>
<line x1="666.9" y1="867.8" x2="666.9" y2="876.3" stroke="#000" stroke-width="2"/>
<text x="666.9" y="892.2" font-size="15.7" text-anchor="middle">30</text>
<line x1="724" y1="867.8" x2="724" y2="876.3" stroke="#000" stroke-width="2"/>
<text x="724" y="892.2" font-size="15.7" text-anchor="middle">60</text>
<line x1="781" y1="867.8" x2="781" y2="876.3" stroke="#000" stroke-width="2"/>
<text x="781" y="892.2" font-size="15.7" text-anchor="middle">90</text>
<line x1="838.2" y1="867.8" x2="838.2" y2="876.3" stroke="#000" stroke-width="2"/>
<text x="838.2" y="892.2" font-size="15.7" text-anchor="middle">180</text>
<text x="695.7" y="916.5" font-size="15.2" text-anchor="middle">Time (day)</text>
<text transform="translate(473.5,746.1) rotate(-90)" font-size="16.63" text-anchor="middle">BUN (mmol/L)</text>
<text x="885.4" y="630.8" font-size="29.5" text-anchor="start">K</text>
<line x1="961.8" y1="795.7" x2="1312" y2="795.7" stroke="#7a5256" stroke-width="2.1" stroke-linecap="round" stroke-dasharray="0 4.15"/>
<line x1="961.8" y1="842" x2="1312" y2="842" stroke="#7a5256" stroke-width="2.1" stroke-linecap="round" stroke-dasharray="0 4.15"/>
<line x1="959.5" y1="626.6" x2="959.5" y2="683.5" stroke="#000" stroke-width="2"/>
<line x1="946.3" y1="627.6" x2="959.5" y2="627.6" stroke="#000" stroke-width="2"/>
<text x="944.3" y="633.3" font-size="16" text-anchor="end">30</text>
<line x1="946.3" y1="655.7" x2="959.5" y2="655.7" stroke="#000" stroke-width="2"/>
<text x="944.3" y="661.4" font-size="16" text-anchor="end">25</text>
<text x="944.3" y="689.6" font-size="16" text-anchor="end">20</text>
<line x1="954.4" y1="678.3" x2="965.4" y2="689.3" stroke="#000" stroke-width="2"/>
<line x1="954.4" y1="696.3" x2="965.4" y2="707" stroke="#000" stroke-width="2"/>
<line x1="959.5" y1="701.5" x2="959.5" y2="870.5" stroke="#000" stroke-width="2"/>
<line x1="951.5" y1="869.5" x2="959.5" y2="869.5" stroke="#000" stroke-width="2"/>
<text x="949.4" y="875.6" font-size="16" text-anchor="end">0</text>
<line x1="951.5" y1="835.8" x2="959.5" y2="835.8" stroke="#000" stroke-width="2"/>
<text x="949.4" y="841.9" font-size="16" text-anchor="end">1</text>
<line x1="951.5" y1="802.1" x2="959.5" y2="802.1" stroke="#000" stroke-width="2"/>
<text x="949.4" y="808.2" font-size="16" text-anchor="end">2</text>
<line x1="951.5" y1="768.4" x2="959.5" y2="768.4" stroke="#000" stroke-width="2"/>
<text x="949.4" y="774.5" font-size="16" text-anchor="end">3</text>
<line x1="951.5" y1="734.7" x2="959.5" y2="734.7" stroke="#000" stroke-width="2"/>
<text x="949.4" y="740.8" font-size="16" text-anchor="end">4</text>
<text x="949.4" y="707.1" font-size="16" text-anchor="end">5</text>
<line x1="951.5" y1="869.5" x2="1323.2" y2="869.5" stroke="#000" stroke-width="2"/>
<line x1="998.3" y1="869.5" x2="998.3" y2="878" stroke="#000" stroke-width="2"/>
<text x="998.3" y="894.5" font-size="15.7" text-anchor="middle">Before</text>
<line x1="1055.4" y1="869.5" x2="1055.4" y2="878" stroke="#000" stroke-width="2"/>
<text x="1055.4" y="894.5" font-size="15.7" text-anchor="middle">3</text>
<line x1="1112.8" y1="869.5" x2="1112.8" y2="878" stroke="#000" stroke-width="2"/>
<text x="1112.8" y="894.5" font-size="15.7" text-anchor="middle">30</text>
<line x1="1170.2" y1="869.5" x2="1170.2" y2="878" stroke="#000" stroke-width="2"/>
<text x="1170.2" y="894.5" font-size="15.7" text-anchor="middle">60</text>
<line x1="1227.3" y1="869.5" x2="1227.3" y2="878" stroke="#000" stroke-width="2"/>
<text x="1227.3" y="894.5" font-size="15.7" text-anchor="middle">90</text>
<line x1="1284.7" y1="869.5" x2="1284.7" y2="878" stroke="#000" stroke-width="2"/>
<text x="1284.7" y="894.5" font-size="15.7" text-anchor="middle">180</text>
<text x="1142.2" y="919.1" font-size="15.2" text-anchor="middle">Time (day)</text>
<text transform="translate(915,747.85) rotate(-90)" font-size="16.85" text-anchor="middle">PT&amp;INR (R)</text>
<text x="1323.4" y="630.8" font-size="29.5" text-anchor="start">L</text>
<line x1="1406.3" y1="734.4" x2="1751.6" y2="734.4" stroke="#7a5256" stroke-width="2.1" stroke-linecap="round" stroke-dasharray="0 4.15"/>
<line x1="1406.3" y1="809.1" x2="1751.6" y2="809.1" stroke="#7a5256" stroke-width="2.1" stroke-linecap="round" stroke-dasharray="0 4.15"/>
<line x1="1404" y1="628.4" x2="1404" y2="870.6" stroke="#000" stroke-width="2"/>
<line x1="1396" y1="869.6" x2="1404" y2="869.6" stroke="#000" stroke-width="2"/>
<text x="1393.9" y="875.7" font-size="16" text-anchor="end">0</text>
<line x1="1396" y1="809.55" x2="1404" y2="809.55" stroke="#000" stroke-width="2"/>
<text x="1393.9" y="815.65" font-size="16" text-anchor="end">20</text>
<line x1="1396" y1="749.5" x2="1404" y2="749.5" stroke="#000" stroke-width="2"/>
<text x="1393.9" y="755.6" font-size="16" text-anchor="end">40</text>
<line x1="1396" y1="689.45" x2="1404" y2="689.45" stroke="#000" stroke-width="2"/>
<text x="1393.9" y="695.55" font-size="16" text-anchor="end">60</text>
<line x1="1396" y1="629.4" x2="1404" y2="629.4" stroke="#000" stroke-width="2"/>
<text x="1393.9" y="635.5" font-size="16" text-anchor="end">80</text>
<line x1="1399.5" y1="854.59" x2="1404" y2="854.59" stroke="#000" stroke-width="2"/>
<line x1="1399.5" y1="839.58" x2="1404" y2="839.58" stroke="#000" stroke-width="2"/>
<line x1="1399.5" y1="824.56" x2="1404" y2="824.56" stroke="#000" stroke-width="2"/>
<line x1="1399.5" y1="794.54" x2="1404" y2="794.54" stroke="#000" stroke-width="2"/>
<line x1="1399.5" y1="779.52" x2="1404" y2="779.52" stroke="#000" stroke-width="2"/>
<line x1="1399.5" y1="764.51" x2="1404" y2="764.51" stroke="#000" stroke-width="2"/>
<line x1="1399.5" y1="734.49" x2="1404" y2="734.49" stroke="#000" stroke-width="2"/>
<line x1="1399.5" y1="719.48" x2="1404" y2="719.48" stroke="#000" stroke-width="2"/>
<line x1="1399.5" y1="704.46" x2="1404" y2="704.46" stroke="#000" stroke-width="2"/>
<line x1="1399.5" y1="674.44" x2="1404" y2="674.44" stroke="#000" stroke-width="2"/>
<line x1="1399.5" y1="659.42" x2="1404" y2="659.42" stroke="#000" stroke-width="2"/>
<line x1="1399.5" y1="644.41" x2="1404" y2="644.41" stroke="#000" stroke-width="2"/>
<line x1="1396" y1="869.6" x2="1763.9" y2="869.6" stroke="#000" stroke-width="2"/>
<line x1="1442" y1="869.6" x2="1442" y2="878.1" stroke="#000" stroke-width="2"/>
<text x="1442" y="894.6" font-size="15.7" text-anchor="middle">Before</text>
<line x1="1498.8" y1="869.6" x2="1498.8" y2="878.1" stroke="#000" stroke-width="2"/>
<text x="1498.8" y="894.6" font-size="15.7" text-anchor="middle">3</text>
<line x1="1555.6" y1="869.6" x2="1555.6" y2="878.1" stroke="#000" stroke-width="2"/>
<text x="1555.6" y="894.6" font-size="15.7" text-anchor="middle">30</text>
<line x1="1612.4" y1="869.6" x2="1612.4" y2="878.1" stroke="#000" stroke-width="2"/>
<text x="1612.4" y="894.6" font-size="15.7" text-anchor="middle">60</text>
<line x1="1669.2" y1="869.6" x2="1669.2" y2="878.1" stroke="#000" stroke-width="2"/>
<text x="1669.2" y="894.6" font-size="15.7" text-anchor="middle">90</text>
<line x1="1726" y1="869.6" x2="1726" y2="878.1" stroke="#000" stroke-width="2"/>
<text x="1726" y="894.6" font-size="15.7" text-anchor="middle">180</text>
<text x="1584.5" y="918.2" font-size="15.2" text-anchor="middle">Time (day)</text>
<text transform="translate(1362.9,748.65) rotate(-90)" font-size="16.76" text-anchor="middle">APTT (s)</text>
<line x1="100.7" y1="116" x2="138.6" y2="116" stroke="#000" stroke-width="2.2"/>
<line x1="157.5" y1="142.1" x2="194.8" y2="142.1" stroke="#000" stroke-width="2.2"/>
<line x1="214.7" y1="128.9" x2="251" y2="128.9" stroke="#000" stroke-width="2.2"/>
<line x1="271.1" y1="118.9" x2="308.1" y2="118.9" stroke="#000" stroke-width="2.2"/>
<line x1="328.4" y1="107.1" x2="366.2" y2="107.1" stroke="#000" stroke-width="2.2"/>
<line x1="385.7" y1="131.1" x2="423" y2="131.1" stroke="#000" stroke-width="2.2"/>
<line x1="532" y1="159.8" x2="570.8" y2="159.8" stroke="#000" stroke-width="2.2"/>
<line x1="589.8" y1="142.6" x2="627.5" y2="142.6" stroke="#000" stroke-width="2.2"/>
<line x1="647.9" y1="176.7" x2="685" y2="176.7" stroke="#000" stroke-width="2.2"/>
<line x1="704.5" y1="187.3" x2="742.5" y2="187.3" stroke="#000" stroke-width="2.2"/>
<line x1="762.8" y1="191" x2="800.6" y2="191" stroke="#000" stroke-width="2.2"/>
<line x1="821" y1="190" x2="855.8" y2="190" stroke="#000" stroke-width="2.2"/>
<line x1="975.7" y1="115.3" x2="1013.1" y2="115.3" stroke="#000" stroke-width="2.2"/>
<line x1="1032.4" y1="135.8" x2="1070.2" y2="135.8" stroke="#000" stroke-width="2.2"/>
<line x1="1089.8" y1="118.5" x2="1127.2" y2="118.5" stroke="#000" stroke-width="2.2"/>
<line x1="1147.1" y1="114" x2="1184.9" y2="114" stroke="#000" stroke-width="2.2"/>
<line x1="1204.2" y1="106.1" x2="1241.6" y2="106.1" stroke="#000" stroke-width="2.2"/>
<line x1="1261.6" y1="108" x2="1299.5" y2="108" stroke="#000" stroke-width="2.2"/>
<line x1="1418.6" y1="162.2" x2="1455.7" y2="162.2" stroke="#000" stroke-width="2.2"/>
<line x1="1474.6" y1="190.1" x2="1512" y2="190.1" stroke="#000" stroke-width="2.2"/>
<line x1="1531.3" y1="132.4" x2="1568.4" y2="132.4" stroke="#000" stroke-width="2.2"/>
<line x1="1587.2" y1="178.4" x2="1624.2" y2="178.4" stroke="#000" stroke-width="2.2"/>
<line x1="1643.2" y1="167.5" x2="1680.2" y2="167.5" stroke="#000" stroke-width="2.2"/>
<line x1="1700.4" y1="178.4" x2="1737.5" y2="178.4" stroke="#000" stroke-width="2.2"/>
<line x1="100.8" y1="484" x2="137.8" y2="484" stroke="#000" stroke-width="2.2"/>
<line x1="157.5" y1="417.5" x2="194.5" y2="417.5" stroke="#000" stroke-width="2.2"/>
<line x1="213.9" y1="471.5" x2="251.5" y2="471.5" stroke="#000" stroke-width="2.2"/>
<line x1="270.3" y1="476.7" x2="307" y2="476.7" stroke="#000" stroke-width="2.2"/>
<line x1="327.2" y1="470.2" x2="364.2" y2="470.2" stroke="#000" stroke-width="2.2"/>
<line x1="383.4" y1="480.3" x2="420.7" y2="480.3" stroke="#000" stroke-width="2.2"/>
<line x1="530.5" y1="553.5" x2="567.5" y2="553.5" stroke="#000" stroke-width="2.2"/>
<line x1="587.3" y1="500.6" x2="624.3" y2="500.6" stroke="#000" stroke-width="2.2"/>
<line x1="642.8" y1="553" x2="679.8" y2="553" stroke="#000" stroke-width="2.2"/>
<line x1="702.2" y1="551.4" x2="737" y2="551.4" stroke="#000" stroke-width="2.2"/>
<line x1="755.5" y1="555.5" x2="792.5" y2="555.5" stroke="#000" stroke-width="2.2"/>
<line x1="811.2" y1="551.2" x2="848.2" y2="551.2" stroke="#000" stroke-width="2.2"/>
<line x1="976.8" y1="529.2" x2="1013.8" y2="529.2" stroke="#000" stroke-width="2.2"/>
<line x1="1034.6" y1="469.2" x2="1070.1" y2="469.2" stroke="#000" stroke-width="2.2"/>
<line x1="1090.6" y1="538.5" x2="1128.5" y2="538.5" stroke="#000" stroke-width="2.2"/>
<line x1="1147.7" y1="539.5" x2="1185.6" y2="539.5" stroke="#000" stroke-width="2.2"/>
<line x1="1205.2" y1="537.3" x2="1242" y2="537.3" stroke="#000" stroke-width="2.2"/>
<line x1="1262.3" y1="535.3" x2="1299.9" y2="535.3" stroke="#000" stroke-width="2.2"/>
<line x1="1420.8" y1="510.7" x2="1458.4" y2="510.7" stroke="#000" stroke-width="2.2"/>
<line x1="1477.8" y1="408.5" x2="1514.8" y2="408.5" stroke="#000" stroke-width="2.2"/>
<line x1="1534.9" y1="505.8" x2="1572" y2="505.8" stroke="#000" stroke-width="2.2"/>
<line x1="1592.3" y1="495.7" x2="1629" y2="495.7" stroke="#000" stroke-width="2.2"/>
<line x1="1648.2" y1="480.7" x2="1685.2" y2="480.7" stroke="#000" stroke-width="2.2"/>
<line x1="1706.5" y1="514.3" x2="1743.3" y2="514.3" stroke="#000" stroke-width="2.2"/>
<line x1="99.8" y1="733.6" x2="137" y2="733.6" stroke="#000" stroke-width="2.2"/>
<line x1="156.3" y1="730.2" x2="193.8" y2="730.2" stroke="#000" stroke-width="2.2"/>
<line x1="213.2" y1="736.9" x2="250.2" y2="736.9" stroke="#000" stroke-width="2.2"/>
<line x1="270.7" y1="721.5" x2="307.8" y2="721.5" stroke="#000" stroke-width="2.2"/>
<line x1="327.6" y1="732.3" x2="364.8" y2="732.3" stroke="#000" stroke-width="2.2"/>
<line x1="384.5" y1="707.8" x2="421.9" y2="707.8" stroke="#000" stroke-width="2.2"/>
<line x1="533.8" y1="794.1" x2="570.8" y2="794.1" stroke="#000" stroke-width="2.2"/>
<line x1="590.5" y1="800.9" x2="627.5" y2="800.9" stroke="#000" stroke-width="2.2"/>
<line x1="647.8" y1="794.1" x2="684.8" y2="794.1" stroke="#000" stroke-width="2.2"/>
<line x1="704.8" y1="800.7" x2="743.1" y2="800.7" stroke="#000" stroke-width="2.2"/>
<line x1="763" y1="803" x2="800" y2="803" stroke="#000" stroke-width="2.2"/>
<line x1="819.5" y1="796.4" x2="857.2" y2="796.4" stroke="#000" stroke-width="2.2"/>
<line x1="979.1" y1="821.3" x2="1016.8" y2="821.3" stroke="#000" stroke-width="2.2"/>
<line x1="1037" y1="790.4" x2="1074.1" y2="790.4" stroke="#000" stroke-width="2.2"/>
<line x1="1093.8" y1="816.4" x2="1131.6" y2="816.4" stroke="#000" stroke-width="2.2"/>
<line x1="1150.8" y1="814.3" x2="1187.8" y2="814.3" stroke="#000" stroke-width="2.2"/>
<line x1="1208.5" y1="815.4" x2="1246.3" y2="815.4" stroke="#000" stroke-width="2.2"/>
<line x1="1266" y1="816.1" x2="1303" y2="816.1" stroke="#000" stroke-width="2.2"/>
<line x1="1423.1" y1="767.7" x2="1459.9" y2="767.7" stroke="#000" stroke-width="2.2"/>
<line x1="1479.8" y1="733.4" x2="1516.8" y2="733.4" stroke="#000" stroke-width="2.2"/>
<line x1="1537.6" y1="757.5" x2="1573.8" y2="757.5" stroke="#000" stroke-width="2.2"/>
<line x1="1594.1" y1="763.7" x2="1631.9" y2="763.7" stroke="#000" stroke-width="2.2"/>
<line x1="1651" y1="762.2" x2="1688.2" y2="762.2" stroke="#000" stroke-width="2.2"/>
<line x1="1708.2" y1="762.2" x2="1744.5" y2="762.2" stroke="#000" stroke-width="2.2"/>
<circle cx="114.5" cy="103.3" r="4.05"/>
<circle cx="124.6" cy="101" r="4.05"/>
<circle cx="104.6" cy="110.7" r="4.05"/>
<circle cx="134.5" cy="110.2" r="4.05"/>
<circle cx="114.5" cy="112.2" r="4.05"/>
<circle cx="119.7" cy="114.8" r="4.05"/>
<circle cx="124.6" cy="112.7" r="4.05"/>
<circle cx="129.4" cy="113.7" r="4.05"/>
<circle cx="109.4" cy="117.8" r="4.05"/>
<circle cx="119.7" cy="125.5" r="4.05"/>
<circle cx="124.6" cy="121.9" r="4.05"/>
<circle cx="129.4" cy="126" r="4.05"/>
<circle cx="109.4" cy="129.6" r="4.05"/>
<circle cx="119.7" cy="137.3" r="4.05"/>
<circle cx="124.6" cy="136" r="4.05"/>
<circle cx="119.7" cy="146.3" r="4.05"/>
<circle cx="161.6" cy="118.7" r="4.05"/>
<circle cx="171.3" cy="117" r="4.05"/>
<circle cx="191.2" cy="118.9" r="4.05"/>
<circle cx="171.3" cy="126.5" r="4.05"/>
<circle cx="181.3" cy="126.2" r="4.05"/>
<circle cx="161.6" cy="138.3" r="4.05"/>
<circle cx="191.2" cy="135.2" r="4.05"/>
<circle cx="171.3" cy="142.9" r="4.05"/>
<circle cx="181.3" cy="141.9" r="4.05"/>
<circle cx="191.2" cy="145.4" r="4.05"/>
<circle cx="161.6" cy="149" r="4.05"/>
<circle cx="181.3" cy="153.1" r="4.05"/>
<circle cx="161.6" cy="158.5" r="4.05"/>
<circle cx="161.6" cy="166.9" r="4.05"/>
<circle cx="181.3" cy="166.9" r="4.05"/>
<circle cx="191.2" cy="163" r="4.05"/>
<circle cx="226" cy="102.3" r="4.05"/>
<circle cx="240.8" cy="107.6" r="4.05"/>
<circle cx="218.6" cy="114.3" r="4.05"/>
<circle cx="233.5" cy="115.6" r="4.05"/>
<circle cx="226" cy="119.9" r="4.05"/>
<circle cx="240.8" cy="119.7" r="4.05"/>
<circle cx="226" cy="128.1" r="4.05"/>
<circle cx="233.5" cy="126.5" r="4.05"/>
<circle cx="248.3" cy="129.3" r="4.05"/>
<circle cx="218.6" cy="134" r="4.05"/>
<circle cx="240.8" cy="134.4" r="4.05"/>
<circle cx="226" cy="139.3" r="4.05"/>
<circle cx="233.5" cy="138.5" r="4.05"/>
<circle cx="248.3" cy="139.1" r="4.05"/>
<circle cx="240.8" cy="143.4" r="4.05"/>
<circle cx="226" cy="148.5" r="4.05"/>
<circle cx="290.3" cy="87.4" r="4.05"/>
<circle cx="281.4" cy="102.5" r="4.05"/>
<circle cx="293.1" cy="105.1" r="4.05"/>
<circle cx="287.3" cy="110.4" r="4.05"/>
<circle cx="275.2" cy="118.9" r="4.05"/>
<circle cx="287.3" cy="118.9" r="4.05"/>
<circle cx="293.1" cy="120.9" r="4.05"/>
<circle cx="299.3" cy="121.1" r="4.05"/>
<circle cx="305.4" cy="117.6" r="4.05"/>
<circle cx="281.4" cy="125" r="4.05"/>
<circle cx="287.3" cy="128.6" r="4.05"/>
<circle cx="287.3" cy="143.9" r="4.05"/>
<circle cx="293.1" cy="141" r="4.05"/>
<circle cx="347.3" cy="86.3" r="4.05"/>
<circle cx="332.5" cy="101" r="4.05"/>
<circle cx="347.3" cy="101" r="4.05"/>
<circle cx="354.7" cy="99.2" r="4.05"/>
<circle cx="340" cy="106.1" r="4.05"/>
<circle cx="354.7" cy="107.8" r="4.05"/>
<circle cx="340" cy="118.3" r="4.05"/>
<circle cx="347.3" cy="124.7" r="4.05"/>
<circle cx="354.7" cy="125" r="4.05"/>
<circle cx="340" cy="129.6" r="4.05"/>
<circle cx="404.3" cy="92.8" r="4.05"/>
<circle cx="404.3" cy="111.4" r="4.05"/>
<circle cx="419.2" cy="127.5" r="4.05"/>
<circle cx="404.3" cy="134.7" r="4.05"/>
<circle cx="419.2" cy="137.3" r="4.05"/>
<circle cx="389.2" cy="141.9" r="4.05"/>
<circle cx="543.3" cy="126.7" r="4.05"/>
<circle cx="551" cy="126.3" r="4.05"/>
<circle cx="558.8" cy="122.8" r="4.05"/>
<circle cx="558.8" cy="138.7" r="4.05"/>
<circle cx="551" cy="144.5" r="4.05"/>
<circle cx="543.3" cy="147.6" r="4.05"/>
<circle cx="558.8" cy="149.4" r="4.05"/>
<circle cx="558.8" cy="157.3" r="4.05"/>
<circle cx="535.9" cy="163.5" r="4.05"/>
<circle cx="566.5" cy="162" r="4.05"/>
<circle cx="543.3" cy="167.4" r="4.05"/>
<circle cx="551" cy="165.1" r="4.05"/>
<circle cx="558.8" cy="168.7" r="4.05"/>
<circle cx="551" cy="187.3" r="4.05"/>
<circle cx="558.8" cy="192.2" r="4.05"/>
<circle cx="543.3" cy="197.8" r="4.05"/>
<circle cx="608.7" cy="64.7" r="4.05"/>
<circle cx="608.7" cy="74.4" r="4.05"/>
<circle cx="608.7" cy="102.1" r="4.05"/>
<circle cx="608.7" cy="115.5" r="4.05"/>
<circle cx="593.6" cy="129.6" r="4.05"/>
<circle cx="608.7" cy="127.1" r="4.05"/>
<circle cx="624" cy="125.7" r="4.05"/>
<circle cx="601.4" cy="142.6" r="4.05"/>
<circle cx="616.3" cy="142.6" r="4.05"/>
<circle cx="593.6" cy="155.2" r="4.05"/>
<circle cx="608.7" cy="152.3" r="4.05"/>
<circle cx="624" cy="155.4" r="4.05"/>
<circle cx="624" cy="164.7" r="4.05"/>
<circle cx="608.7" cy="168.7" r="4.05"/>
<circle cx="608.7" cy="179.4" r="4.05"/>
<circle cx="608.7" cy="191.2" r="4.05"/>
<circle cx="666.7" cy="139.7" r="4.05"/>
<circle cx="666.7" cy="155.2" r="4.05"/>
<circle cx="659.1" cy="170.3" r="4.05"/>
<circle cx="666.7" cy="169.7" r="4.05"/>
<circle cx="674" cy="170.3" r="4.05"/>
<circle cx="681.8" cy="167" r="4.05"/>
<circle cx="651.4" cy="175.1" r="4.05"/>
<circle cx="659.1" cy="178.4" r="4.05"/>
<circle cx="666.7" cy="180" r="4.05"/>
<circle cx="674" cy="178.4" r="4.05"/>
<circle cx="681.8" cy="176.1" r="4.05"/>
<circle cx="659.1" cy="187.7" r="4.05"/>
<circle cx="666.7" cy="193.9" r="4.05"/>
<circle cx="674" cy="193.9" r="4.05"/>
<circle cx="651.4" cy="200.7" r="4.05"/>
<circle cx="681.8" cy="201.9" r="4.05"/>
<circle cx="718.8" cy="152.3" r="4.05"/>
<circle cx="728.9" cy="156.1" r="4.05"/>
<circle cx="723.7" cy="165.1" r="4.05"/>
<circle cx="728.9" cy="176.1" r="4.05"/>
<circle cx="708.6" cy="187.3" r="4.05"/>
<circle cx="718.8" cy="188.3" r="4.05"/>
<circle cx="728.9" cy="186.4" r="4.05"/>
<circle cx="739.2" cy="183.3" r="4.05"/>
<circle cx="728.9" cy="194.5" r="4.05"/>
<circle cx="739.2" cy="195.5" r="4.05"/>
<circle cx="718.8" cy="199.4" r="4.05"/>
<circle cx="728.9" cy="206.1" r="4.05"/>
<circle cx="723.7" cy="218.3" r="4.05"/>
<circle cx="766.7" cy="180" r="4.05"/>
<circle cx="781.6" cy="179.6" r="4.05"/>
<circle cx="797.1" cy="173.6" r="4.05"/>
<circle cx="766.7" cy="188.3" r="4.05"/>
<circle cx="797.1" cy="187.7" r="4.05"/>
<circle cx="781.6" cy="193.9" r="4.05"/>
<circle cx="766.7" cy="200.7" r="4.05"/>
<circle cx="797.1" cy="201.9" r="4.05"/>
<circle cx="774.1" cy="215.8" r="4.05"/>
<circle cx="789.4" cy="214.5" r="4.05"/>
<circle cx="839.4" cy="156.1" r="4.05"/>
<circle cx="824.4" cy="188.3" r="4.05"/>
<circle cx="839.4" cy="184.4" r="4.05"/>
<circle cx="839.4" cy="194.5" r="4.05"/>
<circle cx="854.5" cy="192" r="4.05"/>
<circle cx="839.4" cy="222.6" r="4.05"/>
<circle cx="978.9" cy="104.3" r="4.05"/>
<circle cx="986.6" cy="104.3" r="4.05"/>
<circle cx="994.1" cy="100.4" r="4.05"/>
<circle cx="1001.5" cy="98.4" r="4.05"/>
<circle cx="1009.3" cy="99.4" r="4.05"/>
<circle cx="1001.5" cy="106.7" r="4.05"/>
<circle cx="994.1" cy="110.1" r="4.05"/>
<circle cx="978.9" cy="115.3" r="4.05"/>
<circle cx="986.6" cy="115.3" r="4.05"/>
<circle cx="994.1" cy="121.3" r="4.05"/>
<circle cx="1001.5" cy="119.1" r="4.05"/>
<circle cx="1009.3" cy="122.6" r="4.05"/>
<circle cx="978.9" cy="126.2" r="4.05"/>
<circle cx="1001.5" cy="130" r="4.05"/>
<circle cx="994.1" cy="133.6" r="4.05"/>
<circle cx="994.1" cy="151.7" r="4.05"/>
<circle cx="1058.9" cy="111.7" r="4.05"/>
<circle cx="1043.8" cy="120" r="4.05"/>
<circle cx="1051.3" cy="119" r="4.05"/>
<circle cx="1036.4" cy="126.2" r="4.05"/>
<circle cx="1058.9" cy="126.2" r="4.05"/>
<circle cx="1066.4" cy="127.4" r="4.05"/>
<circle cx="1051.3" cy="129.7" r="4.05"/>
<circle cx="1043.8" cy="132.3" r="4.05"/>
<circle cx="1036.4" cy="139.4" r="4.05"/>
<circle cx="1043.8" cy="144.6" r="4.05"/>
<circle cx="1051.3" cy="145.9" r="4.05"/>
<circle cx="1066.4" cy="142.9" r="4.05"/>
<circle cx="1043.8" cy="160.1" r="4.05"/>
<circle cx="1051.3" cy="161.1" r="4.05"/>
<circle cx="1058.9" cy="162.7" r="4.05"/>
<circle cx="1043.8" cy="169.8" r="4.05"/>
<circle cx="1108.6" cy="91" r="4.05"/>
<circle cx="1101.2" cy="100.7" r="4.05"/>
<circle cx="1108.6" cy="105.5" r="4.05"/>
<circle cx="1116.1" cy="104.5" r="4.05"/>
<circle cx="1093.9" cy="112.7" r="4.05"/>
<circle cx="1108.6" cy="114.9" r="4.05"/>
<circle cx="1116.1" cy="112.7" r="4.05"/>
<circle cx="1101.2" cy="119" r="4.05"/>
<circle cx="1123.8" cy="117.7" r="4.05"/>
<circle cx="1108.6" cy="123.5" r="4.05"/>
<circle cx="1116.1" cy="122.9" r="4.05"/>
<circle cx="1101.2" cy="128.4" r="4.05"/>
<circle cx="1108.6" cy="135.8" r="4.05"/>
<circle cx="1116.1" cy="133.6" r="4.05"/>
<circle cx="1093.9" cy="140.7" r="4.05"/>
<circle cx="1123.8" cy="140.7" r="4.05"/>
<circle cx="1151" cy="94.6" r="4.05"/>
<circle cx="1158.5" cy="92" r="4.05"/>
<circle cx="1165.8" cy="98.4" r="4.05"/>
<circle cx="1173.3" cy="92" r="4.05"/>
<circle cx="1181.1" cy="94.6" r="4.05"/>
<circle cx="1173.3" cy="108" r="4.05"/>
<circle cx="1158.5" cy="114" r="4.05"/>
<circle cx="1165.8" cy="114" r="4.05"/>
<circle cx="1158.5" cy="122.6" r="4.05"/>
<circle cx="1165.8" cy="123.7" r="4.05"/>
<circle cx="1181.1" cy="121.3" r="4.05"/>
<circle cx="1173.3" cy="128.7" r="4.05"/>
<circle cx="1158.5" cy="131" r="4.05"/>
<circle cx="1218.1" cy="75.2" r="4.05"/>
<circle cx="1228.2" cy="80.4" r="4.05"/>
<circle cx="1218.1" cy="86.5" r="4.05"/>
<circle cx="1218.1" cy="99.4" r="4.05"/>
<circle cx="1208.1" cy="106.7" r="4.05"/>
<circle cx="1228.2" cy="106.7" r="4.05"/>
<circle cx="1238.1" cy="105.8" r="4.05"/>
<circle cx="1218.1" cy="112.9" r="4.05"/>
<circle cx="1218.1" cy="126.2" r="4.05"/>
<circle cx="1228.2" cy="123.7" r="4.05"/>
<circle cx="1288.8" cy="80" r="4.05"/>
<circle cx="1272" cy="85.2" r="4.05"/>
<circle cx="1288.8" cy="105.2" r="4.05"/>
<circle cx="1272" cy="110.4" r="4.05"/>
<circle cx="1288.8" cy="131" r="4.05"/>
<circle cx="1272" cy="134.6" r="4.05"/>
<circle cx="1432" cy="103.3" r="4.05"/>
<circle cx="1442.1" cy="110.1" r="4.05"/>
<circle cx="1432" cy="116.7" r="4.05"/>
<circle cx="1442.1" cy="126.4" r="4.05"/>
<circle cx="1432" cy="133.9" r="4.05"/>
<circle cx="1442.1" cy="152" r="4.05"/>
<circle cx="1422.3" cy="161.5" r="4.05"/>
<circle cx="1432" cy="163.4" r="4.05"/>
<circle cx="1442.1" cy="162.7" r="4.05"/>
<circle cx="1451.8" cy="159.1" r="4.05"/>
<circle cx="1432" cy="171.9" r="4.05"/>
<circle cx="1442.1" cy="176" r="4.05"/>
<circle cx="1451.8" cy="187.7" r="4.05"/>
<circle cx="1432" cy="194.2" r="4.05"/>
<circle cx="1442.1" cy="195.4" r="4.05"/>
<circle cx="1436.8" cy="211.2" r="4.05"/>
<circle cx="1493" cy="148.4" r="4.05"/>
<circle cx="1498.1" cy="163.9" r="4.05"/>
<circle cx="1488.4" cy="167.8" r="4.05"/>
<circle cx="1478.5" cy="176.3" r="4.05"/>
<circle cx="1488.4" cy="179.2" r="4.05"/>
<circle cx="1498.1" cy="178" r="4.05"/>
<circle cx="1508.3" cy="175.5" r="4.05"/>
<circle cx="1498.1" cy="190.6" r="4.05"/>
<circle cx="1508.3" cy="189.6" r="4.05"/>
<circle cx="1488.4" cy="197.3" r="4.05"/>
<circle cx="1498.1" cy="203.4" r="4.05"/>
<circle cx="1488.4" cy="206.3" r="4.05"/>
<circle cx="1498.1" cy="212.4" r="4.05"/>
<circle cx="1488.4" cy="221.6" r="4.05"/>
<circle cx="1498.1" cy="221.6" r="4.05"/>
<circle cx="1493" cy="250.7" r="4.05"/>
<circle cx="1550" cy="47.6" r="4.05"/>
<circle cx="1535" cy="79.8" r="4.05"/>
<circle cx="1550" cy="86.4" r="4.05"/>
<circle cx="1564.7" cy="82.7" r="4.05"/>
<circle cx="1550" cy="106.5" r="4.05"/>
<circle cx="1535" cy="110.8" r="4.05"/>
<circle cx="1550" cy="116.7" r="4.05"/>
<circle cx="1550" cy="125.1" r="4.05"/>
<circle cx="1550" cy="139.7" r="4.05"/>
<circle cx="1550" cy="156.2" r="4.05"/>
<circle cx="1535" cy="181.6" r="4.05"/>
<circle cx="1550" cy="177.5" r="4.05"/>
<circle cx="1564.7" cy="175.5" r="4.05"/>
<circle cx="1564.7" cy="187.7" r="4.05"/>
<circle cx="1557.2" cy="205.8" r="4.05"/>
<circle cx="1542.2" cy="213.1" r="4.05"/>
<circle cx="1605.9" cy="102.8" r="4.05"/>
<circle cx="1605.9" cy="142.1" r="4.05"/>
<circle cx="1591.4" cy="156.9" r="4.05"/>
<circle cx="1620.7" cy="164.1" r="4.05"/>
<circle cx="1591.4" cy="170.2" r="4.05"/>
<circle cx="1605.9" cy="169.4" r="4.05"/>
<circle cx="1591.4" cy="178.7" r="4.05"/>
<circle cx="1605.9" cy="178.4" r="4.05"/>
<circle cx="1605.9" cy="187.6" r="4.05"/>
<circle cx="1591.4" cy="194.9" r="4.05"/>
<circle cx="1620.7" cy="197.3" r="4.05"/>
<circle cx="1605.9" cy="217.2" r="4.05"/>
<circle cx="1605.9" cy="230.7" r="4.05"/>
<circle cx="1662.4" cy="110.8" r="4.05"/>
<circle cx="1662.4" cy="143.3" r="4.05"/>
<circle cx="1647.8" cy="157.8" r="4.05"/>
<circle cx="1662.4" cy="160.5" r="4.05"/>
<circle cx="1647.8" cy="167.8" r="4.05"/>
<circle cx="1676.9" cy="167.5" r="4.05"/>
<circle cx="1662.4" cy="179.9" r="4.05"/>
<circle cx="1655.1" cy="217.2" r="4.05"/>
<circle cx="1669.6" cy="219.8" r="4.05"/>
<circle cx="1662.4" cy="254.2" r="4.05"/>
<circle cx="1718.6" cy="150.6" r="4.05"/>
<circle cx="1710.3" cy="164.1" r="4.05"/>
<circle cx="1726.6" cy="168.7" r="4.05"/>
<circle cx="1710.3" cy="188.1" r="4.05"/>
<circle cx="1726.6" cy="190" r="4.05"/>
<circle cx="1718.6" cy="239" r="4.05"/>
<circle cx="119.7" cy="429.7" r="4.05"/>
<circle cx="109.4" cy="454.9" r="4.05"/>
<circle cx="114.7" cy="453.4" r="4.05"/>
<circle cx="124.8" cy="453" r="4.05"/>
<circle cx="119.8" cy="459" r="4.05"/>
<circle cx="124.8" cy="472.9" r="4.05"/>
<circle cx="129.5" cy="476.3" r="4.05"/>
<circle cx="104.6" cy="483.7" r="4.05"/>
<circle cx="109.4" cy="483.7" r="4.05"/>
<circle cx="114.7" cy="487" r="4.05"/>
<circle cx="119.8" cy="490.4" r="4.05"/>
<circle cx="124.8" cy="490.4" r="4.05"/>
<circle cx="129.5" cy="487.8" r="4.05"/>
<circle cx="134.3" cy="489.4" r="4.05"/>
<circle cx="109.4" cy="493.7" r="4.05"/>
<circle cx="129.5" cy="497.6" r="4.05"/>
<circle cx="190.7" cy="343.4" r="4.05"/>
<circle cx="176.1" cy="350.7" r="4.05"/>
<circle cx="168.7" cy="377" r="4.05"/>
<circle cx="183.4" cy="374.8" r="4.05"/>
<circle cx="168.7" cy="397.3" r="4.05"/>
<circle cx="183.4" cy="396.2" r="4.05"/>
<circle cx="190.7" cy="413.3" r="4.05"/>
<circle cx="161.4" cy="418.4" r="4.05"/>
<circle cx="176.1" cy="417.5" r="4.05"/>
<circle cx="161.4" cy="428.3" r="4.05"/>
<circle cx="161.4" cy="438.3" r="4.05"/>
<circle cx="176.1" cy="434.9" r="4.05"/>
<circle cx="190.7" cy="441.3" r="4.05"/>
<circle cx="176.1" cy="458.6" r="4.05"/>
<circle cx="176.1" cy="485.9" r="4.05"/>
<circle cx="228" cy="408.7" r="4.05"/>
<circle cx="237.7" cy="411.1" r="4.05"/>
<circle cx="228" cy="437" r="4.05"/>
<circle cx="237.7" cy="443" r="4.05"/>
<circle cx="237.7" cy="454.3" r="4.05"/>
<circle cx="247.6" cy="459" r="4.05"/>
<circle cx="237.7" cy="464.5" r="4.05"/>
<circle cx="227.9" cy="466.9" r="4.05"/>
<circle cx="227.9" cy="476.5" r="4.05"/>
<circle cx="218" cy="477.7" r="4.05"/>
<circle cx="247.6" cy="481.3" r="4.05"/>
<circle cx="218" cy="488" r="4.05"/>
<circle cx="227.9" cy="493.9" r="4.05"/>
<circle cx="237.7" cy="497.3" r="4.05"/>
<circle cx="247.6" cy="496.6" r="4.05"/>
<circle cx="218" cy="500" r="4.05"/>
<circle cx="289.3" cy="432.9" r="4.05"/>
<circle cx="281.8" cy="439.4" r="4.05"/>
<circle cx="289.3" cy="446.2" r="4.05"/>
<circle cx="289.3" cy="457.7" r="4.05"/>
<circle cx="274.5" cy="471" r="4.05"/>
<circle cx="281.8" cy="471.4" r="4.05"/>
<circle cx="289.3" cy="478.1" r="4.05"/>
<circle cx="296.4" cy="477" r="4.05"/>
<circle cx="303.8" cy="477.5" r="4.05"/>
<circle cx="281.8" cy="481.7" r="4.05"/>
<circle cx="296.4" cy="485" r="4.05"/>
<circle cx="289.3" cy="487.8" r="4.05"/>
<circle cx="289.3" cy="502.4" r="4.05"/>
<circle cx="345.9" cy="417.8" r="4.05"/>
<circle cx="345.9" cy="428.2" r="4.05"/>
<circle cx="345.9" cy="445.2" r="4.05"/>
<circle cx="338.4" cy="459.5" r="4.05"/>
<circle cx="353.2" cy="462.7" r="4.05"/>
<circle cx="345.9" cy="477.5" r="4.05"/>
<circle cx="330.9" cy="484.3" r="4.05"/>
<circle cx="360.5" cy="485.2" r="4.05"/>
<circle cx="345.9" cy="490.6" r="4.05"/>
<circle cx="345.9" cy="498.9" r="4.05"/>
<circle cx="402.1" cy="447.1" r="4.05"/>
<circle cx="402.1" cy="459.5" r="4.05"/>
<circle cx="416.9" cy="476.4" r="4.05"/>
<circle cx="402.1" cy="484.1" r="4.05"/>
<circle cx="387.3" cy="489.4" r="4.05"/>
<circle cx="416.9" cy="488.8" r="4.05"/>
<circle cx="549.3" cy="531.9" r="4.05"/>
<circle cx="549.3" cy="536.4" r="4.05"/>
<circle cx="552.6" cy="544.8" r="4.05"/>
<circle cx="537.5" cy="547.8" r="4.05"/>
<circle cx="544" cy="548" r="4.05"/>
<circle cx="550" cy="548.5" r="4.05"/>
<circle cx="556" cy="547" r="4.05"/>
<circle cx="533.6" cy="555" r="4.05"/>
<circle cx="539.2" cy="555.5" r="4.05"/>
<circle cx="546" cy="557.5" r="4.05"/>
<circle cx="552" cy="556.5" r="4.05"/>
<circle cx="558" cy="557.5" r="4.05"/>
<circle cx="563.5" cy="554.5" r="4.05"/>
<circle cx="565" cy="555.5" r="4.05"/>
<circle cx="543" cy="553" r="4.05"/>
<circle cx="549" cy="552" r="4.05"/>
<circle cx="560" cy="553" r="4.05"/>
<circle cx="555" cy="551.5" r="4.05"/>
<circle cx="538" cy="551" r="4.05"/>
<circle cx="605.6" cy="338.2" r="4.05"/>
<circle cx="605.6" cy="394.5" r="4.05"/>
<circle cx="605.6" cy="434.2" r="4.05"/>
<circle cx="591.2" cy="484.8" r="4.05"/>
<circle cx="605.7" cy="480.9" r="4.05"/>
<circle cx="620.6" cy="485.9" r="4.05"/>
<circle cx="605.7" cy="490.7" r="4.05"/>
<circle cx="598.5" cy="501.1" r="4.05"/>
<circle cx="613.1" cy="500.4" r="4.05"/>
<circle cx="598.5" cy="516.5" r="4.05"/>
<circle cx="613.1" cy="515.6" r="4.05"/>
<circle cx="620.6" cy="543.1" r="4.05"/>
<circle cx="591.2" cy="550.1" r="4.05"/>
<circle cx="605.7" cy="551.2" r="4.05"/>
<circle cx="620.6" cy="552.6" r="4.05"/>
<circle cx="591.2" cy="559.6" r="4.05"/>
<circle cx="662.2" cy="538.8" r="4.05"/>
<circle cx="655.5" cy="543.1" r="4.05"/>
<circle cx="669.3" cy="544.4" r="4.05"/>
<circle cx="660.2" cy="543.5" r="4.05"/>
<circle cx="660.7" cy="547.8" r="4.05"/>
<circle cx="650.3" cy="551.7" r="4.05"/>
<circle cx="646.9" cy="556.9" r="4.05"/>
<circle cx="652.9" cy="555.1" r="4.05"/>
<circle cx="660.2" cy="559.4" r="4.05"/>
<circle cx="660.7" cy="553" r="4.05"/>
<circle cx="666.7" cy="557.7" r="4.05"/>
<circle cx="673.6" cy="558.6" r="4.05"/>
<circle cx="677.9" cy="554.7" r="4.05"/>
<circle cx="677.5" cy="557.7" r="4.05"/>
<circle cx="664.1" cy="555.1" r="4.05"/>
<circle cx="670.1" cy="555.1" r="4.05"/>
<circle cx="665.5" cy="542.5" r="4.05"/>
<circle cx="657" cy="548.5" r="4.05"/>
<circle cx="718.3" cy="532.2" r="4.05"/>
<circle cx="726.2" cy="543.5" r="4.05"/>
<circle cx="733.4" cy="547.1" r="4.05"/>
<circle cx="703.6" cy="550.2" r="4.05"/>
<circle cx="710.8" cy="550.7" r="4.05"/>
<circle cx="718.5" cy="549.8" r="4.05"/>
<circle cx="725.7" cy="550.7" r="4.05"/>
<circle cx="707.2" cy="555.2" r="4.05"/>
<circle cx="714.4" cy="555.2" r="4.05"/>
<circle cx="722.1" cy="558.8" r="4.05"/>
<circle cx="729.8" cy="558.4" r="4.05"/>
<circle cx="722.1" cy="554.3" r="4.05"/>
<circle cx="774.5" cy="531.7" r="4.05"/>
<circle cx="760.5" cy="547.5" r="4.05"/>
<circle cx="765" cy="551.6" r="4.05"/>
<circle cx="779.9" cy="550.2" r="4.05"/>
<circle cx="773.6" cy="553.9" r="4.05"/>
<circle cx="784.4" cy="554.8" r="4.05"/>
<circle cx="760" cy="557.9" r="4.05"/>
<circle cx="769" cy="557.9" r="4.05"/>
<circle cx="779.9" cy="559.7" r="4.05"/>
<circle cx="789.8" cy="557.9" r="4.05"/>
<circle cx="822.3" cy="545.7" r="4.05"/>
<circle cx="834.5" cy="548" r="4.05"/>
<circle cx="846.2" cy="549.3" r="4.05"/>
<circle cx="816" cy="553" r="4.05"/>
<circle cx="828.2" cy="553.4" r="4.05"/>
<circle cx="839.9" cy="554.8" r="4.05"/>
<circle cx="995.4" cy="495" r="4.05"/>
<circle cx="1004.4" cy="505.2" r="4.05"/>
<circle cx="998.2" cy="507" r="4.05"/>
<circle cx="992.5" cy="513.1" r="4.05"/>
<circle cx="1004.4" cy="515.4" r="4.05"/>
<circle cx="986.3" cy="519.1" r="4.05"/>
<circle cx="992.5" cy="525" r="4.05"/>
<circle cx="980.3" cy="529.2" r="4.05"/>
<circle cx="986.1" cy="531.2" r="4.05"/>
<circle cx="992.3" cy="534.7" r="4.05"/>
<circle cx="998.4" cy="533.4" r="4.05"/>
<circle cx="1004.2" cy="530.9" r="4.05"/>
<circle cx="1010.7" cy="535.4" r="4.05"/>
<circle cx="980.3" cy="539.6" r="4.05"/>
<circle cx="1004.2" cy="541.2" r="4.05"/>
<circle cx="1052.2" cy="346.5" r="4.05"/>
<circle cx="1052.2" cy="420.7" r="4.05"/>
<circle cx="1052.2" cy="430.9" r="4.05"/>
<circle cx="1052.2" cy="440.5" r="4.05"/>
<circle cx="1052.2" cy="452.6" r="4.05"/>
<circle cx="1057.2" cy="464.4" r="4.05"/>
<circle cx="1037.4" cy="468.7" r="4.05"/>
<circle cx="1047.5" cy="469.2" r="4.05"/>
<circle cx="1067.5" cy="470.7" r="4.05"/>
<circle cx="1057.2" cy="476.7" r="4.05"/>
<circle cx="1047.5" cy="481" r="4.05"/>
<circle cx="1057.2" cy="489" r="4.05"/>
<circle cx="1047.5" cy="497.2" r="4.05"/>
<circle cx="1057.2" cy="499.3" r="4.05"/>
<circle cx="1052.2" cy="523" r="4.05"/>
<circle cx="1109.8" cy="520.8" r="4.05"/>
<circle cx="1113.6" cy="521.1" r="4.05"/>
<circle cx="1106.1" cy="526.7" r="4.05"/>
<circle cx="1106.1" cy="531.1" r="4.05"/>
<circle cx="1112.9" cy="534.8" r="4.05"/>
<circle cx="1098" cy="536.7" r="4.05"/>
<circle cx="1102.4" cy="538.5" r="4.05"/>
<circle cx="1109.8" cy="537.3" r="4.05"/>
<circle cx="1094.6" cy="543.8" r="4.05"/>
<circle cx="1108" cy="546" r="4.05"/>
<circle cx="1114.8" cy="544.7" r="4.05"/>
<circle cx="1121.6" cy="544.7" r="4.05"/>
<circle cx="1125.3" cy="541.6" r="4.05"/>
<circle cx="1119.8" cy="539.8" r="4.05"/>
<circle cx="1161.7" cy="515.2" r="4.05"/>
<circle cx="1171.8" cy="523" r="4.05"/>
<circle cx="1151.9" cy="531.1" r="4.05"/>
<circle cx="1166.3" cy="529.2" r="4.05"/>
<circle cx="1176.2" cy="531.4" r="4.05"/>
<circle cx="1171.9" cy="534.2" r="4.05"/>
<circle cx="1157" cy="539.1" r="4.05"/>
<circle cx="1166.3" cy="541" r="4.05"/>
<circle cx="1151.9" cy="545.3" r="4.05"/>
<circle cx="1161.7" cy="545.3" r="4.05"/>
<circle cx="1171.8" cy="547.8" r="4.05"/>
<circle cx="1181.5" cy="545.3" r="4.05"/>
<circle cx="1176.2" cy="542.2" r="4.05"/>
<circle cx="1216.6" cy="519.3" r="4.05"/>
<circle cx="1231.4" cy="523.3" r="4.05"/>
<circle cx="1209" cy="533.2" r="4.05"/>
<circle cx="1224" cy="531.1" r="4.05"/>
<circle cx="1239" cy="535.1" r="4.05"/>
<circle cx="1216.6" cy="539.5" r="4.05"/>
<circle cx="1224" cy="541.6" r="4.05"/>
<circle cx="1231.4" cy="541.6" r="4.05"/>
<circle cx="1209" cy="543.5" r="4.05"/>
<circle cx="1239" cy="547.5" r="4.05"/>
<circle cx="1281" cy="523.3" r="4.05"/>
<circle cx="1266.1" cy="531.1" r="4.05"/>
<circle cx="1295.9" cy="529.2" r="4.05"/>
<circle cx="1266.1" cy="541.6" r="4.05"/>
<circle cx="1281" cy="539.8" r="4.05"/>
<circle cx="1295.9" cy="540.1" r="4.05"/>
<circle cx="1439.5" cy="455.2" r="4.05"/>
<circle cx="1439.5" cy="470.4" r="4.05"/>
<circle cx="1430.2" cy="482.3" r="4.05"/>
<circle cx="1436.5" cy="487.9" r="4.05"/>
<circle cx="1442.6" cy="489.4" r="4.05"/>
<circle cx="1430.5" cy="503" r="4.05"/>
<circle cx="1436.5" cy="509" r="4.05"/>
<circle cx="1448.6" cy="509" r="4.05"/>
<circle cx="1430.5" cy="511.9" r="4.05"/>
<circle cx="1442.6" cy="515" r="4.05"/>
<circle cx="1424.4" cy="517.2" r="4.05"/>
<circle cx="1454.7" cy="516.2" r="4.05"/>
<circle cx="1436.5" cy="522" r="4.05"/>
<circle cx="1442.6" cy="523.3" r="4.05"/>
<circle cx="1448.6" cy="522.2" r="4.05"/>
<circle cx="1430.5" cy="528.8" r="4.05"/>
<circle cx="1496.4" cy="348.2" r="4.05"/>
<circle cx="1488.9" cy="358.9" r="4.05"/>
<circle cx="1504" cy="360" r="4.05"/>
<circle cx="1511.5" cy="378.3" r="4.05"/>
<circle cx="1496.4" cy="385.6" r="4.05"/>
<circle cx="1496.4" cy="397.1" r="4.05"/>
<circle cx="1481.8" cy="402" r="4.05"/>
<circle cx="1511.5" cy="406.7" r="4.05"/>
<circle cx="1496.4" cy="410" r="4.05"/>
<circle cx="1496.4" cy="421.2" r="4.05"/>
<circle cx="1511.5" cy="439.5" r="4.05"/>
<circle cx="1496.4" cy="446.1" r="4.05"/>
<circle cx="1496.4" cy="459.9" r="4.05"/>
<circle cx="1496.4" cy="470.2" r="4.05"/>
<circle cx="1496.4" cy="498.7" r="4.05"/>
<circle cx="1496.4" cy="517" r="4.05"/>
<circle cx="1553.5" cy="464.9" r="4.05"/>
<circle cx="1542.3" cy="487.9" r="4.05"/>
<circle cx="1549.9" cy="493.5" r="4.05"/>
<circle cx="1557.3" cy="491.4" r="4.05"/>
<circle cx="1564.7" cy="491.8" r="4.05"/>
<circle cx="1546.1" cy="506" r="4.05"/>
<circle cx="1553.5" cy="503" r="4.05"/>
<circle cx="1561.1" cy="505.8" r="4.05"/>
<circle cx="1568.5" cy="501.9" r="4.05"/>
<circle cx="1553.5" cy="513.2" r="4.05"/>
<circle cx="1568.5" cy="513.5" r="4.05"/>
<circle cx="1546.1" cy="519.8" r="4.05"/>
<circle cx="1561.1" cy="520" r="4.05"/>
<circle cx="1538.7" cy="524.7" r="4.05"/>
<circle cx="1553.5" cy="524.7" r="4.05"/>
<circle cx="1568.5" cy="527.9" r="4.05"/>
<circle cx="1610.5" cy="434.1" r="4.05"/>
<circle cx="1610.5" cy="452.9" r="4.05"/>
<circle cx="1610.5" cy="467.3" r="4.05"/>
<circle cx="1595.8" cy="472.2" r="4.05"/>
<circle cx="1610.5" cy="477.8" r="4.05"/>
<circle cx="1595.8" cy="492.5" r="4.05"/>
<circle cx="1625.6" cy="495.7" r="4.05"/>
<circle cx="1610.5" cy="502.3" r="4.05"/>
<circle cx="1595.8" cy="506.5" r="4.05"/>
<circle cx="1625.6" cy="508.3" r="4.05"/>
<circle cx="1610.5" cy="517" r="4.05"/>
<circle cx="1595.8" cy="525.4" r="4.05"/>
<circle cx="1625.6" cy="524.9" r="4.05"/>
<circle cx="1667.7" cy="421.9" r="4.05"/>
<circle cx="1667.7" cy="446.1" r="4.05"/>
<circle cx="1667.7" cy="465.3" r="4.05"/>
<circle cx="1652.9" cy="480" r="4.05"/>
<circle cx="1667.7" cy="477.9" r="4.05"/>
<circle cx="1682.7" cy="481.1" r="4.05"/>
<circle cx="1667.7" cy="494.7" r="4.05"/>
<circle cx="1682.7" cy="492.6" r="4.05"/>
<circle cx="1667.7" cy="525.5" r="4.05"/>
<circle cx="1667.7" cy="535.3" r="4.05"/>
<circle cx="1724.7" cy="447.5" r="4.05"/>
<circle cx="1724.7" cy="508.4" r="4.05"/>
<circle cx="1739.6" cy="510.8" r="4.05"/>
<circle cx="1724.7" cy="517.5" r="4.05"/>
<circle cx="1709.6" cy="522.7" r="4.05"/>
<circle cx="1739.6" cy="520.6" r="4.05"/>
<circle cx="118.4" cy="671" r="4.05"/>
<circle cx="118.4" cy="697.1" r="4.05"/>
<circle cx="103.9" cy="721.5" r="4.05"/>
<circle cx="109.9" cy="727.2" r="4.05"/>
<circle cx="115.7" cy="727.2" r="4.05"/>
<circle cx="121.6" cy="723.5" r="4.05"/>
<circle cx="127.3" cy="721.8" r="4.05"/>
<circle cx="133.4" cy="719.4" r="4.05"/>
<circle cx="115.7" cy="740.1" r="4.05"/>
<circle cx="109.9" cy="743.3" r="4.05"/>
<circle cx="121.6" cy="748.2" r="4.05"/>
<circle cx="109.9" cy="754.1" r="4.05"/>
<circle cx="115.7" cy="753.3" r="4.05"/>
<circle cx="121.6" cy="758.2" r="4.05"/>
<circle cx="127.3" cy="754.1" r="4.05"/>
<circle cx="115.7" cy="762.7" r="4.05"/>
<circle cx="175.2" cy="658.1" r="4.05"/>
<circle cx="170.4" cy="694.4" r="4.05"/>
<circle cx="180.2" cy="694.9" r="4.05"/>
<circle cx="170.4" cy="705.4" r="4.05"/>
<circle cx="180.2" cy="705.4" r="4.05"/>
<circle cx="170.4" cy="717.8" r="4.05"/>
<circle cx="180.2" cy="717.5" r="4.05"/>
<circle cx="170.4" cy="726.2" r="4.05"/>
<circle cx="190.3" cy="734.3" r="4.05"/>
<circle cx="170.4" cy="738" r="4.05"/>
<circle cx="160.4" cy="746.1" r="4.05"/>
<circle cx="180.2" cy="745.3" r="4.05"/>
<circle cx="190.3" cy="745.3" r="4.05"/>
<circle cx="170.4" cy="754.1" r="4.05"/>
<circle cx="180.2" cy="758.2" r="4.05"/>
<circle cx="170.4" cy="765.9" r="4.05"/>
<circle cx="237.4" cy="668.6" r="4.05"/>
<circle cx="227.4" cy="674.2" r="4.05"/>
<circle cx="232.2" cy="688.3" r="4.05"/>
<circle cx="232.2" cy="699.2" r="4.05"/>
<circle cx="237.4" cy="709.3" r="4.05"/>
<circle cx="227.4" cy="716.2" r="4.05"/>
<circle cx="237.4" cy="731.2" r="4.05"/>
<circle cx="217.4" cy="737.2" r="4.05"/>
<circle cx="227.4" cy="738.8" r="4.05"/>
<circle cx="237.4" cy="742" r="4.05"/>
<circle cx="247.6" cy="736.9" r="4.05"/>
<circle cx="232.2" cy="759.8" r="4.05"/>
<circle cx="222.5" cy="773.8" r="4.05"/>
<circle cx="232.2" cy="778.7" r="4.05"/>
<circle cx="242.2" cy="778" r="4.05"/>
<circle cx="232.2" cy="795.3" r="4.05"/>
<circle cx="289.2" cy="670.5" r="4.05"/>
<circle cx="296.8" cy="668.9" r="4.05"/>
<circle cx="296.8" cy="681.8" r="4.05"/>
<circle cx="289.2" cy="689.6" r="4.05"/>
<circle cx="289.2" cy="708.9" r="4.05"/>
<circle cx="274.4" cy="718.3" r="4.05"/>
<circle cx="289.2" cy="721.5" r="4.05"/>
<circle cx="281.6" cy="726.7" r="4.05"/>
<circle cx="296.8" cy="724.7" r="4.05"/>
<circle cx="304.2" cy="724.7" r="4.05"/>
<circle cx="289.2" cy="739.3" r="4.05"/>
<circle cx="289.2" cy="749" r="4.05"/>
<circle cx="289.2" cy="760.6" r="4.05"/>
<circle cx="346.2" cy="667.3" r="4.05"/>
<circle cx="346.2" cy="685.2" r="4.05"/>
<circle cx="346.2" cy="705.7" r="4.05"/>
<circle cx="338.1" cy="719.1" r="4.05"/>
<circle cx="354.6" cy="723" r="4.05"/>
<circle cx="346.2" cy="741.2" r="4.05"/>
<circle cx="354.6" cy="753.3" r="4.05"/>
<circle cx="338.1" cy="761.4" r="4.05"/>
<circle cx="346.2" cy="786.4" r="4.05"/>
<circle cx="346.2" cy="796.1" r="4.05"/>
<circle cx="418.4" cy="696" r="4.05"/>
<circle cx="388.5" cy="699.2" r="4.05"/>
<circle cx="403" cy="702.5" r="4.05"/>
<circle cx="403" cy="713.4" r="4.05"/>
<circle cx="403" cy="740.9" r="4.05"/>
<circle cx="403" cy="750.9" r="4.05"/>
<circle cx="552.2" cy="743.2" r="4.05"/>
<circle cx="552.2" cy="754.7" r="4.05"/>
<circle cx="552.2" cy="767.3" r="4.05"/>
<circle cx="567.3" cy="770.7" r="4.05"/>
<circle cx="537.5" cy="778.3" r="4.05"/>
<circle cx="552.2" cy="778.3" r="4.05"/>
<circle cx="537.5" cy="794.1" r="4.05"/>
<circle cx="552.2" cy="793.7" r="4.05"/>
<circle cx="567.3" cy="794.7" r="4.05"/>
<circle cx="537.5" cy="806" r="4.05"/>
<circle cx="552.2" cy="803.2" r="4.05"/>
<circle cx="567.3" cy="810.7" r="4.05"/>
<circle cx="552.2" cy="814.1" r="4.05"/>
<circle cx="559.8" cy="829.2" r="4.05"/>
<circle cx="545.1" cy="837.1" r="4.05"/>
<circle cx="609.5" cy="686.9" r="4.05"/>
<circle cx="604.8" cy="734" r="4.05"/>
<circle cx="614.8" cy="738.1" r="4.05"/>
<circle cx="604.8" cy="744.2" r="4.05"/>
<circle cx="614.8" cy="750.8" r="4.05"/>
<circle cx="594.6" cy="792.8" r="4.05"/>
<circle cx="604.8" cy="791.3" r="4.05"/>
<circle cx="594.6" cy="801.8" r="4.05"/>
<circle cx="604.8" cy="803.7" r="4.05"/>
<circle cx="614.8" cy="806.4" r="4.05"/>
<circle cx="624.8" cy="800.9" r="4.05"/>
<circle cx="594.6" cy="816.4" r="4.05"/>
<circle cx="604.8" cy="819.2" r="4.05"/>
<circle cx="614.8" cy="818.8" r="4.05"/>
<circle cx="624.8" cy="819.7" r="4.05"/>
<circle cx="609.5" cy="845.6" r="4.05"/>
<circle cx="667" cy="738.5" r="4.05"/>
<circle cx="673.2" cy="770.6" r="4.05"/>
<circle cx="664.8" cy="773" r="4.05"/>
<circle cx="669.5" cy="772" r="4.05"/>
<circle cx="660" cy="783.7" r="4.05"/>
<circle cx="668.9" cy="784.3" r="4.05"/>
<circle cx="651.6" cy="790.9" r="4.05"/>
<circle cx="664.2" cy="791.8" r="4.05"/>
<circle cx="655.3" cy="796.6" r="4.05"/>
<circle cx="661.9" cy="797.5" r="4.05"/>
<circle cx="668.5" cy="798.4" r="4.05"/>
<circle cx="675.1" cy="799.4" r="4.05"/>
<circle cx="681.7" cy="799.4" r="4.05"/>
<circle cx="664.2" cy="802.2" r="4.05"/>
<circle cx="667" cy="812.2" r="4.05"/>
<circle cx="723.9" cy="763.6" r="4.05"/>
<circle cx="726.9" cy="787.4" r="4.05"/>
<circle cx="709.2" cy="795.9" r="4.05"/>
<circle cx="714.9" cy="795.5" r="4.05"/>
<circle cx="739" cy="795.1" r="4.05"/>
<circle cx="721" cy="800.5" r="4.05"/>
<circle cx="726.9" cy="801.6" r="4.05"/>
<circle cx="732.8" cy="800.5" r="4.05"/>
<circle cx="714.9" cy="804.8" r="4.05"/>
<circle cx="721" cy="809.1" r="4.05"/>
<circle cx="726.9" cy="812.9" r="4.05"/>
<circle cx="732.8" cy="811.3" r="4.05"/>
<circle cx="714.9" cy="814" r="4.05"/>
<circle cx="781.3" cy="765.3" r="4.05"/>
<circle cx="772.1" cy="794.9" r="4.05"/>
<circle cx="784.3" cy="794.9" r="4.05"/>
<circle cx="766.2" cy="798.6" r="4.05"/>
<circle cx="772.1" cy="804.3" r="4.05"/>
<circle cx="778.3" cy="805.9" r="4.05"/>
<circle cx="784.3" cy="806.7" r="4.05"/>
<circle cx="790.4" cy="801.6" r="4.05"/>
<circle cx="796.4" cy="803.8" r="4.05"/>
<circle cx="781.3" cy="822.1" r="4.05"/>
<circle cx="838.4" cy="776.6" r="4.05"/>
<circle cx="823.6" cy="791.4" r="4.05"/>
<circle cx="853.4" cy="793" r="4.05"/>
<circle cx="838.4" cy="800" r="4.05"/>
<circle cx="823.6" cy="808.1" r="4.05"/>
<circle cx="853.4" cy="807.5" r="4.05"/>
<circle cx="998" cy="794.9" r="4.05"/>
<circle cx="992.8" cy="801.7" r="4.05"/>
<circle cx="1008.1" cy="807.7" r="4.05"/>
<circle cx="1003.2" cy="810.7" r="4.05"/>
<circle cx="992.8" cy="815.6" r="4.05"/>
<circle cx="1013" cy="816.4" r="4.05"/>
<circle cx="987.8" cy="821.6" r="4.05"/>
<circle cx="1002.1" cy="819.4" r="4.05"/>
<circle cx="982.9" cy="827.3" r="4.05"/>
<circle cx="993.1" cy="826.9" r="4.05"/>
<circle cx="997.6" cy="830.7" r="4.05"/>
<circle cx="1002.9" cy="829.2" r="4.05"/>
<circle cx="1008.1" cy="826.9" r="4.05"/>
<circle cx="1013" cy="826.1" r="4.05"/>
<circle cx="998" cy="861.5" r="4.05"/>
<circle cx="1054.8" cy="658.1" r="4.05"/>
<circle cx="1054.8" cy="724.2" r="4.05"/>
<circle cx="1054.8" cy="744.1" r="4.05"/>
<circle cx="1070.4" cy="758.2" r="4.05"/>
<circle cx="1050.1" cy="763.4" r="4.05"/>
<circle cx="1060" cy="762.1" r="4.05"/>
<circle cx="1054.8" cy="775.8" r="4.05"/>
<circle cx="1054.8" cy="785.4" r="4.05"/>
<circle cx="1050.1" cy="796.8" r="4.05"/>
<circle cx="1060" cy="795.6" r="4.05"/>
<circle cx="1040.2" cy="811" r="4.05"/>
<circle cx="1060" cy="807.2" r="4.05"/>
<circle cx="1050.1" cy="815.2" r="4.05"/>
<circle cx="1040.2" cy="820.1" r="4.05"/>
<circle cx="1060" cy="819.6" r="4.05"/>
<circle cx="1070.4" cy="819.6" r="4.05"/>
<circle cx="1112.7" cy="802.1" r="4.05"/>
<circle cx="1097.8" cy="810.1" r="4.05"/>
<circle cx="1114.5" cy="810.1" r="4.05"/>
<circle cx="1127.8" cy="810.5" r="4.05"/>
<circle cx="1104.7" cy="814.7" r="4.05"/>
<circle cx="1110.3" cy="813.3" r="4.05"/>
<circle cx="1122.9" cy="813.3" r="4.05"/>
<circle cx="1100.5" cy="817.5" r="4.05"/>
<circle cx="1107.5" cy="819.6" r="4.05"/>
<circle cx="1116.6" cy="818.2" r="4.05"/>
<circle cx="1105.4" cy="823.8" r="4.05"/>
<circle cx="1112.4" cy="823.1" r="4.05"/>
<circle cx="1119.4" cy="825.2" r="4.05"/>
<circle cx="1129.2" cy="811.2" r="4.05"/>
<circle cx="1170.1" cy="773.7" r="4.05"/>
<circle cx="1170.1" cy="785.2" r="4.05"/>
<circle cx="1166.3" cy="797.5" r="4.05"/>
<circle cx="1173.6" cy="798.9" r="4.05"/>
<circle cx="1177.5" cy="809.1" r="4.05"/>
<circle cx="1155.1" cy="814" r="4.05"/>
<circle cx="1162.4" cy="816.8" r="4.05"/>
<circle cx="1170.1" cy="814" r="4.05"/>
<circle cx="1185.2" cy="814.3" r="4.05"/>
<circle cx="1177.5" cy="818.9" r="4.05"/>
<circle cx="1155.1" cy="823.4" r="4.05"/>
<circle cx="1170.1" cy="822.7" r="4.05"/>
<circle cx="1185.2" cy="824.1" r="4.05"/>
<circle cx="1227.7" cy="791" r="4.05"/>
<circle cx="1212.7" cy="810.5" r="4.05"/>
<circle cx="1224.7" cy="809.3" r="4.05"/>
<circle cx="1236.7" cy="813.9" r="4.05"/>
<circle cx="1218.6" cy="814.4" r="4.05"/>
<circle cx="1230.5" cy="815.6" r="4.05"/>
<circle cx="1212.7" cy="820.3" r="4.05"/>
<circle cx="1224.7" cy="818.9" r="4.05"/>
<circle cx="1242.9" cy="817.8" r="4.05"/>
<circle cx="1236.7" cy="823.2" r="4.05"/>
<circle cx="1277.4" cy="812.7" r="4.05"/>
<circle cx="1270" cy="818.9" r="4.05"/>
<circle cx="1284.9" cy="817.2" r="4.05"/>
<circle cx="1292.3" cy="814.7" r="4.05"/>
<circle cx="1298.8" cy="811.6" r="4.05"/>
<circle cx="1298.8" cy="821.8" r="4.05"/>
<circle cx="1441.9" cy="712.1" r="4.05"/>
<circle cx="1427.2" cy="739.5" r="4.05"/>
<circle cx="1427.2" cy="749.3" r="4.05"/>
<circle cx="1434.3" cy="746.3" r="4.05"/>
<circle cx="1441.9" cy="745.2" r="4.05"/>
<circle cx="1449.7" cy="749.3" r="4.05"/>
<circle cx="1456.8" cy="745.7" r="4.05"/>
<circle cx="1456.8" cy="765.7" r="4.05"/>
<circle cx="1427.2" cy="773.3" r="4.05"/>
<circle cx="1434.3" cy="771.8" r="4.05"/>
<circle cx="1441.9" cy="773.3" r="4.05"/>
<circle cx="1449.7" cy="770.2" r="4.05"/>
<circle cx="1441.9" cy="786.2" r="4.05"/>
<circle cx="1449.7" cy="784.1" r="4.05"/>
<circle cx="1441.9" cy="811.7" r="4.05"/>
<circle cx="1441.9" cy="826.7" r="4.05"/>
<circle cx="1498.8" cy="654.2" r="4.05"/>
<circle cx="1501.8" cy="700.9" r="4.05"/>
<circle cx="1495.7" cy="707" r="4.05"/>
<circle cx="1495.7" cy="717.6" r="4.05"/>
<circle cx="1501.8" cy="718" r="4.05"/>
<circle cx="1483.4" cy="733.6" r="4.05"/>
<circle cx="1489.6" cy="730.5" r="4.05"/>
<circle cx="1495.7" cy="736.4" r="4.05"/>
<circle cx="1501.8" cy="734.4" r="4.05"/>
<circle cx="1508" cy="730.9" r="4.05"/>
<circle cx="1514.1" cy="730.9" r="4.05"/>
<circle cx="1508" cy="744.2" r="4.05"/>
<circle cx="1495.7" cy="751.4" r="4.05"/>
<circle cx="1501.8" cy="748.7" r="4.05"/>
<circle cx="1508" cy="753" r="4.05"/>
<circle cx="1498.8" cy="779.4" r="4.05"/>
<circle cx="1555.6" cy="678.1" r="4.05"/>
<circle cx="1555.6" cy="690" r="4.05"/>
<circle cx="1559.1" cy="726.8" r="4.05"/>
<circle cx="1552" cy="730.5" r="4.05"/>
<circle cx="1547.9" cy="748.3" r="4.05"/>
<circle cx="1555.6" cy="747.9" r="4.05"/>
<circle cx="1563.2" cy="747.9" r="4.05"/>
<circle cx="1540.7" cy="760.2" r="4.05"/>
<circle cx="1547.9" cy="760.6" r="4.05"/>
<circle cx="1563.2" cy="758.5" r="4.05"/>
<circle cx="1570.8" cy="756.5" r="4.05"/>
<circle cx="1555.6" cy="764.1" r="4.05"/>
<circle cx="1563.2" cy="770.4" r="4.05"/>
<circle cx="1555.6" cy="777.6" r="4.05"/>
<circle cx="1555.6" cy="787.6" r="4.05"/>
<circle cx="1555.6" cy="799.9" r="4.05"/>
<circle cx="1612.5" cy="659.9" r="4.05"/>
<circle cx="1612.5" cy="713.9" r="4.05"/>
<circle cx="1607.8" cy="729.5" r="4.05"/>
<circle cx="1617.6" cy="728.9" r="4.05"/>
<circle cx="1607.8" cy="753" r="4.05"/>
<circle cx="1617.6" cy="750.4" r="4.05"/>
<circle cx="1607.8" cy="764.7" r="4.05"/>
<circle cx="1617.6" cy="764.1" r="4.05"/>
<circle cx="1597.6" cy="773.5" r="4.05"/>
<circle cx="1607.8" cy="779.4" r="4.05"/>
<circle cx="1617.6" cy="779.4" r="4.05"/>
<circle cx="1627.2" cy="779.4" r="4.05"/>
<circle cx="1612.5" cy="803.6" r="4.05"/>
<circle cx="1669.4" cy="672.6" r="4.05"/>
<circle cx="1669.4" cy="719.1" r="4.05"/>
<circle cx="1664.7" cy="730.3" r="4.05"/>
<circle cx="1674.5" cy="729.9" r="4.05"/>
<circle cx="1669.4" cy="757.5" r="4.05"/>
<circle cx="1654.4" cy="766.7" r="4.05"/>
<circle cx="1664.7" cy="769.4" r="4.05"/>
<circle cx="1674.5" cy="771.8" r="4.05"/>
<circle cx="1684.5" cy="766.7" r="4.05"/>
<circle cx="1669.4" cy="794.3" r="4.05"/>
<circle cx="1741.4" cy="754" r="4.05"/>
<circle cx="1711.3" cy="761.6" r="4.05"/>
<circle cx="1726" cy="758.5" r="4.05"/>
<circle cx="1741.4" cy="763.7" r="4.05"/>
<circle cx="1733.8" cy="777.6" r="4.05"/>
<circle cx="1718.9" cy="784.7" r="4.05"/>
</svg>
</body></html>
